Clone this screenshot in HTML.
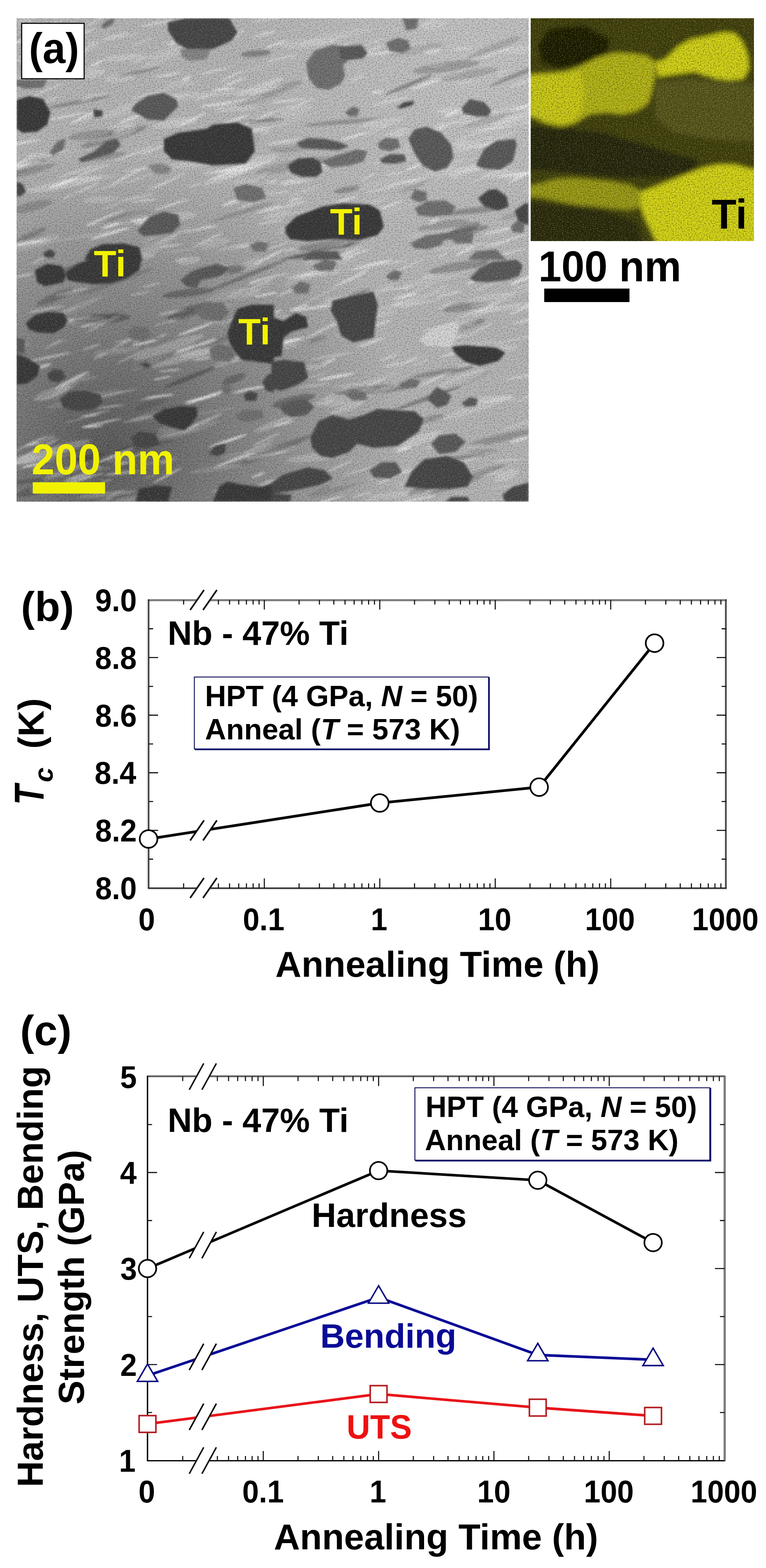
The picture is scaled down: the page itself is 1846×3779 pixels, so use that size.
<!DOCTYPE html>
<html><head><meta charset="utf-8"><title>Nb-47%Ti figure</title>
<style>html,body{margin:0;padding:0;background:#fff;}svg{display:block;}</style></head>
<body><svg width="1846" height="3779" viewBox="0 0 1846 3779">
<rect width="1846" height="3779" fill="#fff"/>
<defs>
<clipPath id="semclip"><rect x="40" y="44" width="1234" height="1165"/></clipPath>
<clipPath id="edsclip"><rect x="1279" y="44" width="538" height="537"/></clipPath>
<filter id="blur3" x="-10%" y="-10%" width="120%" height="120%"><feGaussianBlur stdDeviation="2.5"/></filter>
<filter id="blur12" x="-10%" y="-10%" width="120%" height="120%"><feGaussianBlur stdDeviation="12"/></filter>
<filter id="noise" x="0" y="0" width="100%" height="100%">
  <feTurbulence type="fractalNoise" baseFrequency="0.32" numOctaves="2" seed="7" result="t"/>
  <feColorMatrix type="matrix" values="0 0 0 0 0  0 0 0 0 0  0 0 0 0 0  0 0 0 -2.2 1.25" />
</filter>
<filter id="noisew" x="0" y="0" width="100%" height="100%">
  <feTurbulence type="fractalNoise" baseFrequency="0.35" numOctaves="2" seed="11" result="t"/>
  <feColorMatrix type="matrix" values="0 0 0 0 1  0 0 0 0 1  0 0 0 0 1  0 0 0 2.4 -1.35" />
</filter>
<filter id="noisey" x="0" y="0" width="100%" height="100%">
  <feTurbulence type="fractalNoise" baseFrequency="0.4" numOctaves="2" seed="23" result="t"/>
  <feColorMatrix type="matrix" values="0 0 0 0 0.95  0 0 0 0 0.95  0 0 0 0 0.35  0 0 0 2.6 -1.4" />
</filter>
<radialGradient id="semg" gradientUnits="userSpaceOnUse" cx="260" cy="1080" r="720">
  <stop offset="0" stop-color="#000" stop-opacity="0.5"/>
  <stop offset="0.45" stop-color="#000" stop-opacity="0.27"/>
  <stop offset="1" stop-color="#000" stop-opacity="0"/>
</radialGradient>
<radialGradient id="semg2" gradientUnits="userSpaceOnUse" cx="1150" cy="150" r="600">
  <stop offset="0" stop-color="#fff" stop-opacity="0.22"/>
  <stop offset="1" stop-color="#fff" stop-opacity="0"/>
</radialGradient>
</defs>
<g clip-path="url(#semclip)">
<rect x="40" y="44" width="1234" height="1165" fill="#b8b8b8"/>
<rect x="40" y="44" width="1234" height="1165" fill="url(#semg)"/>
<rect x="40" y="44" width="1234" height="1165" fill="url(#semg2)"/>
<g filter="url(#blur3)"><ellipse cx="809" cy="908" rx="46" ry="3.4" transform="rotate(-11 809 908)" fill="#fff" opacity="0.72"/><ellipse cx="76" cy="586" rx="53" ry="2.7" transform="rotate(-7 76 586)" fill="#fff" opacity="0.35"/><ellipse cx="619" cy="331" rx="36" ry="2.5" transform="rotate(-28 619 331)" fill="#fff" opacity="0.40"/><ellipse cx="385" cy="1112" rx="45" ry="1.6" transform="rotate(-10 385 1112)" fill="#fff" opacity="0.36"/><ellipse cx="802" cy="192" rx="13" ry="3.2" transform="rotate(-23 802 192)" fill="#fff" opacity="0.40"/><ellipse cx="1252" cy="1060" rx="25" ry="3.4" transform="rotate(-16 1252 1060)" fill="#fff" opacity="0.61"/><ellipse cx="293" cy="1140" rx="42" ry="3.4" transform="rotate(-7 293 1140)" fill="#fff" opacity="0.43"/><ellipse cx="486" cy="237" rx="19" ry="1.4" transform="rotate(-21 486 237)" fill="#fff" opacity="0.57"/><ellipse cx="44" cy="834" rx="27" ry="1.9" transform="rotate(-9 44 834)" fill="#fff" opacity="0.52"/><ellipse cx="430" cy="605" rx="42" ry="1.4" transform="rotate(-6 430 605)" fill="#fff" opacity="0.31"/><ellipse cx="965" cy="1028" rx="13" ry="3.0" transform="rotate(-20 965 1028)" fill="#fff" opacity="0.56"/><ellipse cx="51" cy="98" rx="20" ry="3.4" transform="rotate(-23 51 98)" fill="#fff" opacity="0.64"/><ellipse cx="1187" cy="1141" rx="27" ry="2.0" transform="rotate(-16 1187 1141)" fill="#fff" opacity="0.65"/><ellipse cx="173" cy="916" rx="46" ry="3.2" transform="rotate(-27 173 916)" fill="#fff" opacity="0.73"/><ellipse cx="153" cy="441" rx="38" ry="3.3" transform="rotate(-20 153 441)" fill="#fff" opacity="0.72"/><ellipse cx="713" cy="408" rx="26" ry="1.6" transform="rotate(-26 713 408)" fill="#fff" opacity="0.37"/><ellipse cx="890" cy="1205" rx="19" ry="1.4" transform="rotate(-5 890 1205)" fill="#fff" opacity="0.54"/><ellipse cx="541" cy="320" rx="38" ry="3.1" transform="rotate(-18 541 320)" fill="#fff" opacity="0.49"/><ellipse cx="109" cy="1111" rx="14" ry="2.4" transform="rotate(-9 109 1111)" fill="#fff" opacity="0.36"/><ellipse cx="943" cy="1151" rx="39" ry="3.0" transform="rotate(-26 943 1151)" fill="#fff" opacity="0.50"/><ellipse cx="224" cy="1028" rx="25" ry="2.3" transform="rotate(-5 224 1028)" fill="#fff" opacity="0.68"/><ellipse cx="1244" cy="572" rx="33" ry="2.9" transform="rotate(-17 1244 572)" fill="#fff" opacity="0.43"/><ellipse cx="538" cy="215" rx="29" ry="3.5" transform="rotate(-6 538 215)" fill="#fff" opacity="0.58"/><ellipse cx="656" cy="438" rx="16" ry="1.9" transform="rotate(-10 656 438)" fill="#fff" opacity="0.69"/><ellipse cx="486" cy="960" rx="45" ry="2.8" transform="rotate(-13 486 960)" fill="#fff" opacity="0.64"/><ellipse cx="488" cy="865" rx="24" ry="2.3" transform="rotate(-10 488 865)" fill="#fff" opacity="0.61"/><ellipse cx="403" cy="1146" rx="40" ry="2.6" transform="rotate(-28 403 1146)" fill="#fff" opacity="0.55"/><ellipse cx="349" cy="826" rx="32" ry="3.1" transform="rotate(-13 349 826)" fill="#fff" opacity="0.66"/><ellipse cx="469" cy="794" rx="44" ry="3.1" transform="rotate(-20 469 794)" fill="#fff" opacity="0.68"/><ellipse cx="1113" cy="846" rx="54" ry="3.4" transform="rotate(-16 1113 846)" fill="#fff" opacity="0.54"/><ellipse cx="245" cy="1019" rx="52" ry="2.3" transform="rotate(-12 245 1019)" fill="#fff" opacity="0.62"/><ellipse cx="941" cy="244" rx="46" ry="2.6" transform="rotate(-13 941 244)" fill="#fff" opacity="0.49"/><ellipse cx="810" cy="947" rx="40" ry="2.9" transform="rotate(-27 810 947)" fill="#fff" opacity="0.37"/><ellipse cx="584" cy="801" rx="22" ry="2.8" transform="rotate(-13 584 801)" fill="#fff" opacity="0.32"/><ellipse cx="622" cy="308" rx="15" ry="1.6" transform="rotate(-21 622 308)" fill="#fff" opacity="0.38"/><ellipse cx="279" cy="86" rx="32" ry="2.1" transform="rotate(-14 279 86)" fill="#fff" opacity="0.57"/><ellipse cx="334" cy="1096" rx="13" ry="2.2" transform="rotate(-22 334 1096)" fill="#fff" opacity="0.48"/><ellipse cx="182" cy="1013" rx="28" ry="1.3" transform="rotate(-14 182 1013)" fill="#fff" opacity="0.34"/><ellipse cx="713" cy="439" rx="37" ry="3.4" transform="rotate(-9 713 439)" fill="#fff" opacity="0.49"/><ellipse cx="1043" cy="792" rx="28" ry="1.6" transform="rotate(-14 1043 792)" fill="#fff" opacity="0.55"/><ellipse cx="1221" cy="1172" rx="38" ry="2.0" transform="rotate(-7 1221 1172)" fill="#fff" opacity="0.30"/><ellipse cx="173" cy="703" rx="39" ry="1.6" transform="rotate(-14 173 703)" fill="#fff" opacity="0.70"/><ellipse cx="504" cy="547" rx="22" ry="1.9" transform="rotate(-6 504 547)" fill="#fff" opacity="0.47"/><ellipse cx="1226" cy="1109" rx="38" ry="1.8" transform="rotate(-5 1226 1109)" fill="#fff" opacity="0.52"/><ellipse cx="553" cy="416" rx="54" ry="2.4" transform="rotate(-21 553 416)" fill="#fff" opacity="0.51"/><ellipse cx="190" cy="768" rx="31" ry="1.9" transform="rotate(-10 190 768)" fill="#fff" opacity="0.67"/><ellipse cx="56" cy="664" rx="24" ry="3.4" transform="rotate(-10 56 664)" fill="#fff" opacity="0.41"/><ellipse cx="370" cy="224" rx="55" ry="1.9" transform="rotate(-14 370 224)" fill="#fff" opacity="0.51"/><ellipse cx="836" cy="747" rx="44" ry="1.5" transform="rotate(-11 836 747)" fill="#fff" opacity="0.44"/><ellipse cx="698" cy="436" rx="25" ry="2.4" transform="rotate(-17 698 436)" fill="#fff" opacity="0.46"/><ellipse cx="959" cy="732" rx="14" ry="1.8" transform="rotate(-18 959 732)" fill="#fff" opacity="0.71"/><ellipse cx="1136" cy="680" rx="13" ry="3.0" transform="rotate(-18 1136 680)" fill="#fff" opacity="0.56"/><ellipse cx="914" cy="781" rx="33" ry="3.3" transform="rotate(-19 914 781)" fill="#fff" opacity="0.48"/><ellipse cx="1091" cy="273" rx="25" ry="3.1" transform="rotate(-26 1091 273)" fill="#fff" opacity="0.68"/><ellipse cx="897" cy="548" rx="25" ry="3.0" transform="rotate(-7 897 548)" fill="#fff" opacity="0.36"/><ellipse cx="630" cy="684" rx="34" ry="2.0" transform="rotate(-24 630 684)" fill="#fff" opacity="0.56"/><ellipse cx="1042" cy="124" rx="22" ry="3.1" transform="rotate(-10 1042 124)" fill="#fff" opacity="0.60"/><ellipse cx="72" cy="886" rx="54" ry="3.5" transform="rotate(-12 72 886)" fill="#fff" opacity="0.32"/><ellipse cx="1079" cy="299" rx="40" ry="3.4" transform="rotate(-12 1079 299)" fill="#fff" opacity="0.36"/><ellipse cx="401" cy="1113" rx="19" ry="2.6" transform="rotate(-18 401 1113)" fill="#fff" opacity="0.37"/><ellipse cx="808" cy="95" rx="17" ry="2.1" transform="rotate(-26 808 95)" fill="#fff" opacity="0.33"/><ellipse cx="750" cy="909" rx="50" ry="1.6" transform="rotate(-18 750 909)" fill="#fff" opacity="0.44"/><ellipse cx="781" cy="614" rx="52" ry="2.1" transform="rotate(-27 781 614)" fill="#fff" opacity="0.61"/><ellipse cx="226" cy="780" rx="34" ry="3.3" transform="rotate(-15 226 780)" fill="#fff" opacity="0.58"/><ellipse cx="365" cy="687" rx="23" ry="2.9" transform="rotate(-16 365 687)" fill="#fff" opacity="0.36"/><ellipse cx="329" cy="476" rx="44" ry="1.7" transform="rotate(-12 329 476)" fill="#fff" opacity="0.59"/><ellipse cx="145" cy="822" rx="16" ry="1.5" transform="rotate(-14 145 822)" fill="#fff" opacity="0.41"/><ellipse cx="1122" cy="604" rx="26" ry="3.0" transform="rotate(-27 1122 604)" fill="#fff" opacity="0.63"/><ellipse cx="106" cy="220" rx="53" ry="2.8" transform="rotate(-23 106 220)" fill="#fff" opacity="0.35"/><ellipse cx="1240" cy="819" rx="47" ry="1.6" transform="rotate(-14 1240 819)" fill="#fff" opacity="0.46"/><ellipse cx="330" cy="432" rx="39" ry="2.0" transform="rotate(-19 330 432)" fill="#fff" opacity="0.36"/><ellipse cx="1066" cy="799" rx="47" ry="2.2" transform="rotate(-8 1066 799)" fill="#fff" opacity="0.53"/><ellipse cx="771" cy="712" rx="44" ry="2.1" transform="rotate(-26 771 712)" fill="#fff" opacity="0.31"/><ellipse cx="290" cy="90" rx="50" ry="2.3" transform="rotate(-11 290 90)" fill="#fff" opacity="0.30"/><ellipse cx="620" cy="1081" rx="39" ry="2.2" transform="rotate(-17 620 1081)" fill="#fff" opacity="0.34"/><ellipse cx="231" cy="229" rx="28" ry="2.1" transform="rotate(-8 231 229)" fill="#fff" opacity="0.37"/><ellipse cx="354" cy="367" rx="19" ry="1.9" transform="rotate(-23 354 367)" fill="#fff" opacity="0.52"/><ellipse cx="80" cy="1121" rx="28" ry="3.4" transform="rotate(-12 80 1121)" fill="#fff" opacity="0.60"/><ellipse cx="622" cy="1145" rx="18" ry="2.8" transform="rotate(-21 622 1145)" fill="#fff" opacity="0.60"/><ellipse cx="940" cy="234" rx="21" ry="1.3" transform="rotate(-23 940 234)" fill="#fff" opacity="0.34"/><ellipse cx="535" cy="1178" rx="28" ry="2.0" transform="rotate(-17 535 1178)" fill="#fff" opacity="0.43"/><ellipse cx="944" cy="880" rx="19" ry="1.8" transform="rotate(-13 944 880)" fill="#fff" opacity="0.72"/><ellipse cx="837" cy="546" rx="54" ry="1.3" transform="rotate(-27 837 546)" fill="#fff" opacity="0.65"/><ellipse cx="546" cy="96" rx="36" ry="3.5" transform="rotate(-16 546 96)" fill="#fff" opacity="0.46"/><ellipse cx="156" cy="127" rx="51" ry="2.4" transform="rotate(-6 156 127)" fill="#fff" opacity="0.32"/><ellipse cx="340" cy="103" rx="29" ry="1.4" transform="rotate(-22 340 103)" fill="#fff" opacity="0.48"/><ellipse cx="418" cy="104" rx="14" ry="3.4" transform="rotate(-24 418 104)" fill="#fff" opacity="0.53"/><ellipse cx="537" cy="663" rx="16" ry="2.0" transform="rotate(-26 537 663)" fill="#fff" opacity="0.54"/><ellipse cx="1177" cy="741" rx="49" ry="1.7" transform="rotate(-28 1177 741)" fill="#fff" opacity="0.54"/><ellipse cx="640" cy="710" rx="29" ry="2.7" transform="rotate(-11 640 710)" fill="#fff" opacity="0.71"/><ellipse cx="420" cy="567" rx="48" ry="1.8" transform="rotate(-25 420 567)" fill="#fff" opacity="0.44"/><ellipse cx="148" cy="944" rx="47" ry="2.0" transform="rotate(-25 148 944)" fill="#fff" opacity="0.34"/><ellipse cx="342" cy="142" rx="31" ry="2.5" transform="rotate(-22 342 142)" fill="#fff" opacity="0.33"/><ellipse cx="905" cy="100" rx="21" ry="1.9" transform="rotate(-19 905 100)" fill="#fff" opacity="0.34"/><ellipse cx="559" cy="410" rx="44" ry="2.5" transform="rotate(-7 559 410)" fill="#fff" opacity="0.59"/><ellipse cx="977" cy="714" rx="31" ry="3.1" transform="rotate(-13 977 714)" fill="#fff" opacity="0.73"/><ellipse cx="938" cy="861" rx="24" ry="3.1" transform="rotate(-19 938 861)" fill="#fff" opacity="0.36"/><ellipse cx="121" cy="241" rx="24" ry="2.8" transform="rotate(-21 121 241)" fill="#fff" opacity="0.33"/><ellipse cx="983" cy="693" rx="14" ry="1.4" transform="rotate(-25 983 693)" fill="#fff" opacity="0.46"/><ellipse cx="1101" cy="1150" rx="39" ry="1.8" transform="rotate(-18 1101 1150)" fill="#fff" opacity="0.46"/><ellipse cx="448" cy="58" rx="37" ry="3.1" transform="rotate(-11 448 58)" fill="#fff" opacity="0.34"/><ellipse cx="694" cy="243" rx="43" ry="2.3" transform="rotate(-6 694 243)" fill="#fff" opacity="0.66"/><ellipse cx="186" cy="413" rx="51" ry="2.3" transform="rotate(-18 186 413)" fill="#fff" opacity="0.50"/><ellipse cx="987" cy="1135" rx="35" ry="3.4" transform="rotate(-14 987 1135)" fill="#fff" opacity="0.35"/><ellipse cx="1045" cy="533" rx="15" ry="3.5" transform="rotate(-27 1045 533)" fill="#fff" opacity="0.56"/><ellipse cx="635" cy="1071" rx="29" ry="1.7" transform="rotate(-22 635 1071)" fill="#fff" opacity="0.39"/><ellipse cx="734" cy="460" rx="44" ry="1.8" transform="rotate(-20 734 460)" fill="#fff" opacity="0.41"/><ellipse cx="1252" cy="1023" rx="49" ry="2.6" transform="rotate(-19 1252 1023)" fill="#fff" opacity="0.36"/><ellipse cx="1066" cy="615" rx="14" ry="1.6" transform="rotate(-26 1066 615)" fill="#fff" opacity="0.62"/><ellipse cx="1151" cy="276" rx="46" ry="2.0" transform="rotate(-12 1151 276)" fill="#fff" opacity="0.69"/><ellipse cx="809" cy="976" rx="28" ry="1.3" transform="rotate(-16 809 976)" fill="#fff" opacity="0.56"/><ellipse cx="268" cy="497" rx="26" ry="1.3" transform="rotate(-21 268 497)" fill="#fff" opacity="0.47"/><ellipse cx="628" cy="863" rx="29" ry="3.5" transform="rotate(-9 628 863)" fill="#fff" opacity="0.72"/><ellipse cx="895" cy="825" rx="35" ry="3.0" transform="rotate(-20 895 825)" fill="#fff" opacity="0.57"/><ellipse cx="878" cy="652" rx="25" ry="1.4" transform="rotate(-26 878 652)" fill="#fff" opacity="0.46"/><ellipse cx="756" cy="929" rx="43" ry="1.9" transform="rotate(-7 756 929)" fill="#fff" opacity="0.42"/><ellipse cx="924" cy="128" rx="45" ry="2.8" transform="rotate(-6 924 128)" fill="#fff" opacity="0.70"/><ellipse cx="889" cy="1021" rx="44" ry="2.6" transform="rotate(-23 889 1021)" fill="#fff" opacity="0.53"/><ellipse cx="1146" cy="323" rx="54" ry="2.5" transform="rotate(-19 1146 323)" fill="#fff" opacity="0.30"/><ellipse cx="521" cy="252" rx="40" ry="3.3" transform="rotate(-7 521 252)" fill="#fff" opacity="0.58"/><ellipse cx="517" cy="171" rx="42" ry="2.5" transform="rotate(-12 517 171)" fill="#fff" opacity="0.47"/><ellipse cx="1134" cy="292" rx="25" ry="1.9" transform="rotate(-14 1134 292)" fill="#fff" opacity="0.70"/><ellipse cx="247" cy="781" rx="45" ry="1.8" transform="rotate(-27 247 781)" fill="#fff" opacity="0.55"/><ellipse cx="1065" cy="1068" rx="43" ry="2.2" transform="rotate(-18 1065 1068)" fill="#fff" opacity="0.54"/><ellipse cx="1156" cy="396" rx="24" ry="2.6" transform="rotate(-6 1156 396)" fill="#fff" opacity="0.38"/><ellipse cx="78" cy="179" rx="36" ry="2.6" transform="rotate(-24 78 179)" fill="#fff" opacity="0.39"/><ellipse cx="774" cy="797" rx="42" ry="2.9" transform="rotate(-27 774 797)" fill="#fff" opacity="0.52"/><ellipse cx="1070" cy="1159" rx="26" ry="3.2" transform="rotate(-13 1070 1159)" fill="#fff" opacity="0.72"/><ellipse cx="323" cy="856" rx="48" ry="2.3" transform="rotate(-26 323 856)" fill="#fff" opacity="0.39"/><ellipse cx="233" cy="152" rx="19" ry="2.6" transform="rotate(-26 233 152)" fill="#fff" opacity="0.64"/><ellipse cx="948" cy="995" rx="47" ry="2.9" transform="rotate(-7 948 995)" fill="#fff" opacity="0.73"/><ellipse cx="811" cy="1168" rx="17" ry="1.5" transform="rotate(-27 811 1168)" fill="#fff" opacity="0.39"/><ellipse cx="502" cy="578" rx="41" ry="2.9" transform="rotate(-26 502 578)" fill="#fff" opacity="0.48"/><ellipse cx="711" cy="481" rx="17" ry="2.6" transform="rotate(-19 711 481)" fill="#fff" opacity="0.61"/><ellipse cx="651" cy="1166" rx="53" ry="1.4" transform="rotate(-11 651 1166)" fill="#fff" opacity="0.62"/><ellipse cx="405" cy="180" rx="33" ry="2.0" transform="rotate(-11 405 180)" fill="#fff" opacity="0.71"/><ellipse cx="512" cy="383" rx="34" ry="2.8" transform="rotate(-10 512 383)" fill="#fff" opacity="0.56"/><ellipse cx="405" cy="437" rx="49" ry="2.4" transform="rotate(-27 405 437)" fill="#fff" opacity="0.49"/><ellipse cx="333" cy="820" rx="16" ry="1.9" transform="rotate(-26 333 820)" fill="#fff" opacity="0.51"/><ellipse cx="1255" cy="675" rx="29" ry="3.4" transform="rotate(-26 1255 675)" fill="#fff" opacity="0.46"/><ellipse cx="1041" cy="50" rx="45" ry="2.1" transform="rotate(-28 1041 50)" fill="#fff" opacity="0.41"/><ellipse cx="605" cy="490" rx="34" ry="1.4" transform="rotate(-23 605 490)" fill="#fff" opacity="0.74"/><ellipse cx="586" cy="594" rx="16" ry="1.9" transform="rotate(-6 586 594)" fill="#fff" opacity="0.61"/><ellipse cx="667" cy="106" rx="29" ry="3.0" transform="rotate(-18 667 106)" fill="#fff" opacity="0.57"/><ellipse cx="1154" cy="796" rx="40" ry="1.3" transform="rotate(-27 1154 796)" fill="#fff" opacity="0.65"/><ellipse cx="550" cy="1062" rx="48" ry="3.3" transform="rotate(-19 550 1062)" fill="#fff" opacity="0.75"/><ellipse cx="973" cy="1083" rx="19" ry="3.0" transform="rotate(-18 973 1083)" fill="#fff" opacity="0.74"/><ellipse cx="1267" cy="296" rx="30" ry="1.9" transform="rotate(-17 1267 296)" fill="#fff" opacity="0.43"/><ellipse cx="862" cy="188" rx="20" ry="2.3" transform="rotate(-26 862 188)" fill="#fff" opacity="0.47"/><ellipse cx="1147" cy="1075" rx="21" ry="1.3" transform="rotate(-9 1147 1075)" fill="#fff" opacity="0.73"/><ellipse cx="779" cy="203" rx="23" ry="3.3" transform="rotate(-6 779 203)" fill="#fff" opacity="0.31"/><ellipse cx="268" cy="544" rx="24" ry="2.9" transform="rotate(-19 268 544)" fill="#fff" opacity="0.65"/><ellipse cx="228" cy="648" rx="54" ry="2.8" transform="rotate(-26 228 648)" fill="#fff" opacity="0.35"/><ellipse cx="834" cy="481" rx="28" ry="2.3" transform="rotate(-15 834 481)" fill="#fff" opacity="0.73"/><ellipse cx="337" cy="707" rx="24" ry="2.5" transform="rotate(-11 337 707)" fill="#fff" opacity="0.36"/><ellipse cx="634" cy="866" rx="13" ry="3.0" transform="rotate(-18 634 866)" fill="#fff" opacity="0.53"/><ellipse cx="793" cy="968" rx="15" ry="2.4" transform="rotate(-27 793 968)" fill="#fff" opacity="0.47"/><ellipse cx="467" cy="69" rx="25" ry="2.3" transform="rotate(-13 467 69)" fill="#fff" opacity="0.72"/><ellipse cx="497" cy="662" rx="43" ry="3.4" transform="rotate(-6 497 662)" fill="#fff" opacity="0.74"/><ellipse cx="412" cy="238" rx="52" ry="1.4" transform="rotate(-18 412 238)" fill="#fff" opacity="0.63"/><ellipse cx="692" cy="497" rx="52" ry="1.9" transform="rotate(-15 692 497)" fill="#fff" opacity="0.67"/><ellipse cx="210" cy="453" rx="34" ry="2.5" transform="rotate(-23 210 453)" fill="#fff" opacity="0.50"/><ellipse cx="114" cy="146" rx="27" ry="1.6" transform="rotate(-6 114 146)" fill="#fff" opacity="0.42"/><ellipse cx="380" cy="957" rx="44" ry="1.8" transform="rotate(-9 380 957)" fill="#fff" opacity="0.58"/><ellipse cx="520" cy="777" rx="23" ry="1.8" transform="rotate(-8 520 777)" fill="#fff" opacity="0.50"/><ellipse cx="1147" cy="250" rx="18" ry="1.4" transform="rotate(-11 1147 250)" fill="#fff" opacity="0.55"/><ellipse cx="52" cy="94" rx="48" ry="2.4" transform="rotate(-8 52 94)" fill="#fff" opacity="0.32"/><ellipse cx="767" cy="181" rx="43" ry="2.6" transform="rotate(-14 767 181)" fill="#fff" opacity="0.40"/><ellipse cx="1211" cy="173" rx="15" ry="2.8" transform="rotate(-26 1211 173)" fill="#fff" opacity="0.33"/><ellipse cx="608" cy="800" rx="50" ry="2.9" transform="rotate(-26 608 800)" fill="#fff" opacity="0.59"/><ellipse cx="1081" cy="184" rx="45" ry="1.8" transform="rotate(-21 1081 184)" fill="#fff" opacity="0.30"/><ellipse cx="976" cy="645" rx="51" ry="2.3" transform="rotate(-24 976 645)" fill="#fff" opacity="0.40"/><ellipse cx="365" cy="1147" rx="21" ry="1.4" transform="rotate(-20 365 1147)" fill="#fff" opacity="0.34"/><ellipse cx="565" cy="768" rx="40" ry="1.6" transform="rotate(-25 565 768)" fill="#fff" opacity="0.52"/><ellipse cx="888" cy="565" rx="37" ry="3.3" transform="rotate(-25 888 565)" fill="#fff" opacity="0.42"/><ellipse cx="649" cy="669" rx="51" ry="2.5" transform="rotate(-13 649 669)" fill="#fff" opacity="0.49"/><ellipse cx="1008" cy="1018" rx="25" ry="1.5" transform="rotate(-22 1008 1018)" fill="#fff" opacity="0.46"/><ellipse cx="1138" cy="352" rx="39" ry="2.7" transform="rotate(-6 1138 352)" fill="#fff" opacity="0.35"/><ellipse cx="990" cy="436" rx="17" ry="2.7" transform="rotate(-9 990 436)" fill="#fff" opacity="0.56"/><ellipse cx="102" cy="1177" rx="29" ry="2.7" transform="rotate(-11 102 1177)" fill="#fff" opacity="0.42"/><ellipse cx="544" cy="428" rx="17" ry="1.4" transform="rotate(-12 544 428)" fill="#fff" opacity="0.48"/><ellipse cx="1113" cy="117" rx="25" ry="1.7" transform="rotate(-6 1113 117)" fill="#fff" opacity="0.66"/><ellipse cx="1146" cy="634" rx="17" ry="2.2" transform="rotate(-23 1146 634)" fill="#fff" opacity="0.31"/><ellipse cx="737" cy="382" rx="17" ry="2.4" transform="rotate(-7 737 382)" fill="#fff" opacity="0.73"/><ellipse cx="615" cy="164" rx="45" ry="1.5" transform="rotate(-16 615 164)" fill="#fff" opacity="0.34"/><ellipse cx="1258" cy="676" rx="31" ry="1.9" transform="rotate(-15 1258 676)" fill="#fff" opacity="0.74"/><ellipse cx="568" cy="288" rx="34" ry="3.3" transform="rotate(-19 568 288)" fill="#fff" opacity="0.59"/><ellipse cx="1174" cy="423" rx="47" ry="2.4" transform="rotate(-25 1174 423)" fill="#fff" opacity="0.32"/><ellipse cx="1199" cy="587" rx="31" ry="3.3" transform="rotate(-15 1199 587)" fill="#fff" opacity="0.53"/><ellipse cx="391" cy="911" rx="23" ry="2.3" transform="rotate(-11 391 911)" fill="#fff" opacity="0.57"/><ellipse cx="206" cy="280" rx="42" ry="2.9" transform="rotate(-26 206 280)" fill="#fff" opacity="0.75"/><ellipse cx="205" cy="239" rx="16" ry="2.3" transform="rotate(-14 205 239)" fill="#fff" opacity="0.69"/><ellipse cx="241" cy="858" rx="17" ry="2.6" transform="rotate(-22 241 858)" fill="#fff" opacity="0.46"/><ellipse cx="105" cy="884" rx="18" ry="3.0" transform="rotate(-20 105 884)" fill="#fff" opacity="0.57"/><ellipse cx="829" cy="613" rx="50" ry="3.3" transform="rotate(-22 829 613)" fill="#fff" opacity="0.45"/><ellipse cx="1122" cy="199" rx="30" ry="2.2" transform="rotate(-6 1122 199)" fill="#fff" opacity="0.36"/><ellipse cx="848" cy="926" rx="43" ry="1.3" transform="rotate(-6 848 926)" fill="#fff" opacity="0.44"/><ellipse cx="1093" cy="814" rx="30" ry="3.1" transform="rotate(-12 1093 814)" fill="#fff" opacity="0.45"/><ellipse cx="943" cy="633" rx="43" ry="2.6" transform="rotate(-10 943 633)" fill="#fff" opacity="0.37"/><ellipse cx="650" cy="45" rx="46" ry="3.0" transform="rotate(-9 650 45)" fill="#fff" opacity="0.32"/><ellipse cx="700" cy="602" rx="18" ry="1.7" transform="rotate(-6 700 602)" fill="#fff" opacity="0.68"/><ellipse cx="334" cy="1010" rx="40" ry="2.1" transform="rotate(-13 334 1010)" fill="#fff" opacity="0.40"/><ellipse cx="378" cy="56" rx="40" ry="2.6" transform="rotate(-11 378 56)" fill="#fff" opacity="0.53"/><ellipse cx="577" cy="401" rx="44" ry="2.1" transform="rotate(-14 577 401)" fill="#fff" opacity="0.64"/><ellipse cx="589" cy="843" rx="15" ry="1.8" transform="rotate(-9 589 843)" fill="#fff" opacity="0.37"/><ellipse cx="110" cy="61" rx="45" ry="1.5" transform="rotate(-17 110 61)" fill="#fff" opacity="0.50"/><ellipse cx="1031" cy="599" rx="35" ry="1.3" transform="rotate(-10 1031 599)" fill="#fff" opacity="0.65"/><ellipse cx="809" cy="1017" rx="39" ry="2.9" transform="rotate(-8 809 1017)" fill="#fff" opacity="0.58"/><ellipse cx="65" cy="1074" rx="55" ry="1.7" transform="rotate(-26 65 1074)" fill="#fff" opacity="0.45"/><ellipse cx="164" cy="474" rx="16" ry="1.7" transform="rotate(-28 164 474)" fill="#fff" opacity="0.49"/><ellipse cx="410" cy="893" rx="29" ry="1.6" transform="rotate(-6 410 893)" fill="#fff" opacity="0.70"/><ellipse cx="891" cy="297" rx="30" ry="2.3" transform="rotate(-19 891 297)" fill="#fff" opacity="0.31"/><ellipse cx="602" cy="938" rx="42" ry="3.2" transform="rotate(-12 602 938)" fill="#fff" opacity="0.64"/><ellipse cx="1114" cy="1112" rx="46" ry="2.2" transform="rotate(-13 1114 1112)" fill="#fff" opacity="0.60"/><ellipse cx="1129" cy="875" rx="31" ry="1.7" transform="rotate(-20 1129 875)" fill="#fff" opacity="0.41"/><ellipse cx="881" cy="940" rx="21" ry="2.5" transform="rotate(-9 881 940)" fill="#fff" opacity="0.46"/><ellipse cx="157" cy="750" rx="28" ry="1.6" transform="rotate(-21 157 750)" fill="#fff" opacity="0.30"/><ellipse cx="224" cy="540" rx="17" ry="1.3" transform="rotate(-15 224 540)" fill="#fff" opacity="0.73"/><ellipse cx="1069" cy="424" rx="52" ry="1.4" transform="rotate(-25 1069 424)" fill="#fff" opacity="0.30"/><ellipse cx="112" cy="745" rx="45" ry="2.3" transform="rotate(-10 112 745)" fill="#fff" opacity="0.50"/><ellipse cx="1174" cy="752" rx="35" ry="1.6" transform="rotate(-18 1174 752)" fill="#fff" opacity="0.50"/><ellipse cx="1055" cy="312" rx="25" ry="3.1" transform="rotate(-26 1055 312)" fill="#fff" opacity="0.54"/><ellipse cx="311" cy="819" rx="38" ry="1.5" transform="rotate(-11 311 819)" fill="#fff" opacity="0.48"/><ellipse cx="436" cy="1042" rx="46" ry="1.9" transform="rotate(-12 436 1042)" fill="#fff" opacity="0.36"/><ellipse cx="680" cy="140" rx="40" ry="3.3" transform="rotate(-13 680 140)" fill="#fff" opacity="0.32"/><ellipse cx="673" cy="591" rx="31" ry="1.6" transform="rotate(-22 673 591)" fill="#fff" opacity="0.50"/><ellipse cx="128" cy="830" rx="23" ry="1.9" transform="rotate(-26 128 830)" fill="#fff" opacity="0.44"/><ellipse cx="1189" cy="384" rx="17" ry="2.0" transform="rotate(-6 1189 384)" fill="#fff" opacity="0.34"/><ellipse cx="463" cy="288" rx="41" ry="2.3" transform="rotate(-26 463 288)" fill="#fff" opacity="0.69"/><ellipse cx="445" cy="843" rx="32" ry="3.2" transform="rotate(-27 445 843)" fill="#fff" opacity="0.40"/><ellipse cx="392" cy="352" rx="47" ry="2.4" transform="rotate(-20 392 352)" fill="#fff" opacity="0.53"/><ellipse cx="1084" cy="708" rx="32" ry="2.7" transform="rotate(-14 1084 708)" fill="#fff" opacity="0.48"/><ellipse cx="566" cy="197" rx="31" ry="3.2" transform="rotate(-21 566 197)" fill="#fff" opacity="0.46"/><ellipse cx="784" cy="732" rx="20" ry="2.3" transform="rotate(-11 784 732)" fill="#fff" opacity="0.32"/><ellipse cx="174" cy="924" rx="51" ry="1.4" transform="rotate(-26 174 924)" fill="#fff" opacity="0.58"/><ellipse cx="391" cy="809" rx="14" ry="2.3" transform="rotate(-24 391 809)" fill="#fff" opacity="0.45"/><ellipse cx="896" cy="638" rx="49" ry="3.1" transform="rotate(-14 896 638)" fill="#fff" opacity="0.68"/><ellipse cx="259" cy="597" rx="26" ry="2.7" transform="rotate(-25 259 597)" fill="#fff" opacity="0.70"/><ellipse cx="497" cy="957" rx="53" ry="3.4" transform="rotate(-19 497 957)" fill="#fff" opacity="0.69"/><ellipse cx="1270" cy="196" rx="44" ry="2.9" transform="rotate(-17 1270 196)" fill="#fff" opacity="0.43"/><ellipse cx="254" cy="524" rx="52" ry="2.2" transform="rotate(-22 254 524)" fill="#fff" opacity="0.58"/><ellipse cx="580" cy="759" rx="32" ry="1.9" transform="rotate(-27 580 759)" fill="#fff" opacity="0.67"/><ellipse cx="853" cy="328" rx="34" ry="2.6" transform="rotate(-16 853 328)" fill="#fff" opacity="0.71"/><ellipse cx="1001" cy="401" rx="27" ry="2.6" transform="rotate(-24 1001 401)" fill="#fff" opacity="0.72"/><ellipse cx="96" cy="626" rx="24" ry="2.4" transform="rotate(-27 96 626)" fill="#fff" opacity="0.40"/><ellipse cx="1260" cy="962" rx="22" ry="2.3" transform="rotate(-27 1260 962)" fill="#fff" opacity="0.35"/><ellipse cx="277" cy="1191" rx="26" ry="1.8" transform="rotate(-26 277 1191)" fill="#fff" opacity="0.35"/><ellipse cx="1268" cy="906" rx="52" ry="3.1" transform="rotate(-10 1268 906)" fill="#fff" opacity="0.41"/><ellipse cx="249" cy="359" rx="15" ry="1.6" transform="rotate(-11 249 359)" fill="#fff" opacity="0.52"/><ellipse cx="53" cy="399" rx="49" ry="3.2" transform="rotate(-11 53 399)" fill="#fff" opacity="0.63"/><ellipse cx="1165" cy="693" rx="29" ry="2.5" transform="rotate(-22 1165 693)" fill="#fff" opacity="0.32"/><ellipse cx="361" cy="577" rx="18" ry="1.4" transform="rotate(-22 361 577)" fill="#fff" opacity="0.47"/><ellipse cx="1221" cy="611" rx="48" ry="2.9" transform="rotate(-14 1221 611)" fill="#fff" opacity="0.44"/><ellipse cx="525" cy="413" rx="39" ry="3.2" transform="rotate(-10 525 413)" fill="#fff" opacity="0.43"/><ellipse cx="225" cy="54" rx="37" ry="1.8" transform="rotate(-28 225 54)" fill="#fff" opacity="0.44"/><ellipse cx="322" cy="283" rx="41" ry="2.6" transform="rotate(-22 322 283)" fill="#fff" opacity="0.63"/><ellipse cx="295" cy="1117" rx="18" ry="2.6" transform="rotate(-12 295 1117)" fill="#fff" opacity="0.63"/><ellipse cx="641" cy="1059" rx="39" ry="2.8" transform="rotate(-26 641 1059)" fill="#fff" opacity="0.38"/><ellipse cx="615" cy="679" rx="17" ry="2.9" transform="rotate(-20 615 679)" fill="#fff" opacity="0.51"/><ellipse cx="684" cy="1021" rx="25" ry="2.5" transform="rotate(-14 684 1021)" fill="#fff" opacity="0.59"/><ellipse cx="425" cy="369" rx="32" ry="2.6" transform="rotate(-13 425 369)" fill="#fff" opacity="0.36"/><ellipse cx="591" cy="697" rx="21" ry="1.5" transform="rotate(-7 591 697)" fill="#fff" opacity="0.31"/><ellipse cx="655" cy="387" rx="14" ry="1.9" transform="rotate(-24 655 387)" fill="#fff" opacity="0.48"/><ellipse cx="1163" cy="137" rx="27" ry="2.8" transform="rotate(-14 1163 137)" fill="#fff" opacity="0.31"/><ellipse cx="322" cy="371" rx="51" ry="2.2" transform="rotate(-22 322 371)" fill="#fff" opacity="0.52"/><ellipse cx="639" cy="218" rx="41" ry="2.9" transform="rotate(-17 639 218)" fill="#fff" opacity="0.54"/><ellipse cx="991" cy="1158" rx="39" ry="1.3" transform="rotate(-16 991 1158)" fill="#fff" opacity="0.60"/><ellipse cx="448" cy="841" rx="28" ry="2.6" transform="rotate(-14 448 841)" fill="#fff" opacity="0.60"/><ellipse cx="1182" cy="869" rx="43" ry="2.8" transform="rotate(-23 1182 869)" fill="#fff" opacity="0.58"/><ellipse cx="806" cy="115" rx="45" ry="1.8" transform="rotate(-17 806 115)" fill="#fff" opacity="0.54"/><ellipse cx="931" cy="936" rx="32" ry="3.4" transform="rotate(-18 931 936)" fill="#fff" opacity="0.55"/><ellipse cx="1264" cy="421" rx="43" ry="3.4" transform="rotate(-26 1264 421)" fill="#fff" opacity="0.65"/><ellipse cx="844" cy="673" rx="46" ry="3.2" transform="rotate(-25 844 673)" fill="#fff" opacity="0.52"/><ellipse cx="799" cy="858" rx="53" ry="3.1" transform="rotate(-9 799 858)" fill="#fff" opacity="0.33"/><ellipse cx="566" cy="1108" rx="53" ry="3.0" transform="rotate(-20 566 1108)" fill="#fff" opacity="0.65"/><ellipse cx="696" cy="822" rx="40" ry="3.2" transform="rotate(-12 696 822)" fill="#fff" opacity="0.74"/><ellipse cx="649" cy="619" rx="40" ry="2.5" transform="rotate(-27 649 619)" fill="#fff" opacity="0.73"/><ellipse cx="433" cy="626" rx="14" ry="1.7" transform="rotate(-7 433 626)" fill="#fff" opacity="0.42"/><ellipse cx="408" cy="990" rx="23" ry="2.8" transform="rotate(-15 408 990)" fill="#fff" opacity="0.70"/><ellipse cx="628" cy="427" rx="24" ry="2.1" transform="rotate(-28 628 427)" fill="#fff" opacity="0.35"/><ellipse cx="224" cy="410" rx="45" ry="3.4" transform="rotate(-20 224 410)" fill="#fff" opacity="0.41"/><ellipse cx="402" cy="777" rx="33" ry="1.5" transform="rotate(-16 402 777)" fill="#fff" opacity="0.42"/><ellipse cx="218" cy="959" rx="17" ry="2.2" transform="rotate(-10 218 959)" fill="#fff" opacity="0.54"/><ellipse cx="1118" cy="414" rx="53" ry="1.3" transform="rotate(-7 1118 414)" fill="#fff" opacity="0.49"/><ellipse cx="44" cy="346" rx="55" ry="2.9" transform="rotate(-11 44 346)" fill="#fff" opacity="0.66"/><ellipse cx="48" cy="402" rx="32" ry="3.3" transform="rotate(-7 48 402)" fill="#fff" opacity="0.37"/><ellipse cx="1258" cy="690" rx="25" ry="1.4" transform="rotate(-18 1258 690)" fill="#fff" opacity="0.53"/><ellipse cx="600" cy="406" rx="53" ry="2.3" transform="rotate(-21 600 406)" fill="#fff" opacity="0.65"/><ellipse cx="341" cy="537" rx="17" ry="1.8" transform="rotate(-5 341 537)" fill="#fff" opacity="0.58"/><ellipse cx="686" cy="828" rx="41" ry="2.4" transform="rotate(-20 686 828)" fill="#fff" opacity="0.37"/><ellipse cx="76" cy="185" rx="30" ry="1.3" transform="rotate(-12 76 185)" fill="#fff" opacity="0.45"/><ellipse cx="328" cy="409" rx="33" ry="1.7" transform="rotate(-8 328 409)" fill="#fff" opacity="0.52"/><ellipse cx="125" cy="143" rx="50" ry="2.6" transform="rotate(-21 125 143)" fill="#fff" opacity="0.62"/><ellipse cx="97" cy="1080" rx="52" ry="2.7" transform="rotate(-27 97 1080)" fill="#fff" opacity="0.49"/><ellipse cx="1073" cy="735" rx="21" ry="1.8" transform="rotate(-27 1073 735)" fill="#fff" opacity="0.53"/><ellipse cx="264" cy="563" rx="51" ry="3.3" transform="rotate(-17 264 563)" fill="#fff" opacity="0.65"/><ellipse cx="205" cy="1148" rx="49" ry="2.3" transform="rotate(-8 205 1148)" fill="#fff" opacity="0.43"/><ellipse cx="1250" cy="420" rx="52" ry="3.1" transform="rotate(-7 1250 420)" fill="#fff" opacity="0.63"/><ellipse cx="130" cy="370" rx="40" ry="3.3" transform="rotate(-12 130 370)" fill="#fff" opacity="0.32"/><ellipse cx="469" cy="446" rx="20" ry="1.8" transform="rotate(-16 469 446)" fill="#fff" opacity="0.47"/><ellipse cx="370" cy="524" rx="53" ry="2.6" transform="rotate(-11 370 524)" fill="#fff" opacity="0.72"/><ellipse cx="78" cy="1070" rx="17" ry="1.7" transform="rotate(-11 78 1070)" fill="#fff" opacity="0.64"/><ellipse cx="799" cy="599" rx="43" ry="2.2" transform="rotate(-24 799 599)" fill="#fff" opacity="0.40"/><ellipse cx="179" cy="87" rx="53" ry="3.4" transform="rotate(-20 179 87)" fill="#fff" opacity="0.49"/><ellipse cx="384" cy="954" rx="33" ry="1.6" transform="rotate(-8 384 954)" fill="#fff" opacity="0.72"/><ellipse cx="97" cy="579" rx="22" ry="2.7" transform="rotate(-20 97 579)" fill="#fff" opacity="0.43"/><ellipse cx="413" cy="752" rx="34" ry="2.3" transform="rotate(-12 413 752)" fill="#fff" opacity="0.51"/><ellipse cx="1208" cy="555" rx="46" ry="3.3" transform="rotate(-14 1208 555)" fill="#fff" opacity="0.57"/><ellipse cx="1015" cy="873" rx="21" ry="2.2" transform="rotate(-24 1015 873)" fill="#fff" opacity="0.31"/><ellipse cx="888" cy="427" rx="23" ry="1.3" transform="rotate(-27 888 427)" fill="#fff" opacity="0.60"/><ellipse cx="482" cy="552" rx="41" ry="3.3" transform="rotate(-12 482 552)" fill="#fff" opacity="0.40"/><ellipse cx="1261" cy="258" rx="37" ry="2.7" transform="rotate(-21 1261 258)" fill="#fff" opacity="0.70"/><ellipse cx="793" cy="871" rx="18" ry="3.1" transform="rotate(-21 793 871)" fill="#fff" opacity="0.58"/><ellipse cx="949" cy="419" rx="24" ry="2.0" transform="rotate(-6 949 419)" fill="#fff" opacity="0.60"/><ellipse cx="622" cy="699" rx="40" ry="1.8" transform="rotate(-26 622 699)" fill="#fff" opacity="0.35"/><ellipse cx="758" cy="742" rx="54" ry="2.6" transform="rotate(-8 758 742)" fill="#fff" opacity="0.74"/><ellipse cx="653" cy="535" rx="33" ry="2.1" transform="rotate(-11 653 535)" fill="#fff" opacity="0.56"/><ellipse cx="191" cy="1157" rx="35" ry="2.9" transform="rotate(-15 191 1157)" fill="#fff" opacity="0.56"/><ellipse cx="751" cy="178" rx="18" ry="2.9" transform="rotate(-20 751 178)" fill="#fff" opacity="0.36"/><ellipse cx="1046" cy="915" rx="45" ry="2.1" transform="rotate(-25 1046 915)" fill="#fff" opacity="0.64"/><ellipse cx="306" cy="822" rx="42" ry="1.9" transform="rotate(-28 306 822)" fill="#fff" opacity="0.57"/><ellipse cx="1015" cy="730" rx="54" ry="1.8" transform="rotate(-11 1015 730)" fill="#fff" opacity="0.50"/><ellipse cx="756" cy="396" rx="22" ry="2.5" transform="rotate(-14 756 396)" fill="#fff" opacity="0.71"/><ellipse cx="785" cy="626" rx="40" ry="2.7" transform="rotate(-19 785 626)" fill="#fff" opacity="0.42"/><ellipse cx="882" cy="495" rx="14" ry="1.6" transform="rotate(-20 882 495)" fill="#fff" opacity="0.61"/><ellipse cx="850" cy="615" rx="47" ry="2.0" transform="rotate(-20 850 615)" fill="#fff" opacity="0.64"/><ellipse cx="878" cy="540" rx="50" ry="1.3" transform="rotate(-16 878 540)" fill="#fff" opacity="0.69"/><ellipse cx="1125" cy="269" rx="47" ry="2.4" transform="rotate(-6 1125 269)" fill="#fff" opacity="0.45"/><ellipse cx="860" cy="792" rx="55" ry="2.0" transform="rotate(-19 860 792)" fill="#fff" opacity="0.36"/><ellipse cx="884" cy="126" rx="49" ry="1.6" transform="rotate(-24 884 126)" fill="#fff" opacity="0.73"/><ellipse cx="655" cy="923" rx="27" ry="1.8" transform="rotate(-20 655 923)" fill="#fff" opacity="0.74"/><ellipse cx="277" cy="1098" rx="50" ry="2.8" transform="rotate(-22 277 1098)" fill="#fff" opacity="0.63"/><ellipse cx="1157" cy="735" rx="22" ry="2.6" transform="rotate(-6 1157 735)" fill="#fff" opacity="0.57"/><ellipse cx="224" cy="280" rx="39" ry="1.4" transform="rotate(-28 224 280)" fill="#fff" opacity="0.47"/><ellipse cx="358" cy="619" rx="16" ry="2.5" transform="rotate(-12 358 619)" fill="#fff" opacity="0.44"/><ellipse cx="758" cy="658" rx="46" ry="2.5" transform="rotate(-13 758 658)" fill="#fff" opacity="0.55"/><ellipse cx="1055" cy="156" rx="17" ry="3.2" transform="rotate(-9 1055 156)" fill="#fff" opacity="0.30"/><ellipse cx="1143" cy="753" rx="49" ry="2.8" transform="rotate(-19 1143 753)" fill="#fff" opacity="0.35"/><ellipse cx="984" cy="871" rx="32" ry="1.9" transform="rotate(-20 984 871)" fill="#fff" opacity="0.72"/><ellipse cx="612" cy="289" rx="54" ry="3.5" transform="rotate(-24 612 289)" fill="#fff" opacity="0.39"/><ellipse cx="941" cy="495" rx="33" ry="2.8" transform="rotate(-22 941 495)" fill="#fff" opacity="0.57"/><ellipse cx="292" cy="302" rx="36" ry="2.2" transform="rotate(-7 292 302)" fill="#fff" opacity="0.36"/><ellipse cx="1171" cy="349" rx="27" ry="1.5" transform="rotate(-21 1171 349)" fill="#fff" opacity="0.74"/><ellipse cx="487" cy="1018" rx="54" ry="2.8" transform="rotate(-24 487 1018)" fill="#fff" opacity="0.49"/><ellipse cx="246" cy="335" rx="27" ry="1.6" transform="rotate(-12 246 335)" fill="#fff" opacity="0.54"/><ellipse cx="399" cy="341" rx="19" ry="1.5" transform="rotate(-18 399 341)" fill="#fff" opacity="0.33"/><ellipse cx="685" cy="341" rx="45" ry="1.9" transform="rotate(-8 685 341)" fill="#fff" opacity="0.73"/><ellipse cx="1187" cy="309" rx="52" ry="2.3" transform="rotate(-8 1187 309)" fill="#fff" opacity="0.51"/><ellipse cx="708" cy="345" rx="45" ry="2.1" transform="rotate(-8 708 345)" fill="#fff" opacity="0.62"/><ellipse cx="569" cy="80" rx="24" ry="2.2" transform="rotate(-19 569 80)" fill="#fff" opacity="0.56"/><ellipse cx="46" cy="589" rx="50" ry="3.4" transform="rotate(-12 46 589)" fill="#fff" opacity="0.61"/><ellipse cx="784" cy="1208" rx="46" ry="2.3" transform="rotate(-17 784 1208)" fill="#fff" opacity="0.72"/><ellipse cx="721" cy="741" rx="26" ry="2.7" transform="rotate(-17 721 741)" fill="#fff" opacity="0.72"/><ellipse cx="1274" cy="1204" rx="53" ry="1.3" transform="rotate(-26 1274 1204)" fill="#fff" opacity="0.45"/><ellipse cx="1060" cy="694" rx="23" ry="1.5" transform="rotate(-22 1060 694)" fill="#fff" opacity="0.36"/><ellipse cx="217" cy="912" rx="21" ry="1.6" transform="rotate(-14 217 912)" fill="#fff" opacity="0.36"/><ellipse cx="1068" cy="801" rx="50" ry="2.9" transform="rotate(-11 1068 801)" fill="#fff" opacity="0.42"/><ellipse cx="562" cy="487" rx="29" ry="3.3" transform="rotate(-18 562 487)" fill="#fff" opacity="0.66"/><ellipse cx="818" cy="140" rx="21" ry="2.6" transform="rotate(-10 818 140)" fill="#fff" opacity="0.40"/><ellipse cx="348" cy="483" rx="32" ry="2.2" transform="rotate(-7 348 483)" fill="#fff" opacity="0.57"/><ellipse cx="383" cy="445" rx="34" ry="1.6" transform="rotate(-19 383 445)" fill="#fff" opacity="0.33"/><ellipse cx="850" cy="1054" rx="51" ry="2.6" transform="rotate(-19 850 1054)" fill="#fff" opacity="0.55"/><ellipse cx="726" cy="250" rx="35" ry="2.4" transform="rotate(-23 726 250)" fill="#fff" opacity="0.50"/><ellipse cx="1072" cy="791" rx="26" ry="1.8" transform="rotate(-14 1072 791)" fill="#fff" opacity="0.55"/><ellipse cx="408" cy="593" rx="30" ry="2.7" transform="rotate(-8 408 593)" fill="#fff" opacity="0.47"/><ellipse cx="704" cy="699" rx="41" ry="1.8" transform="rotate(-22 704 699)" fill="#fff" opacity="0.72"/><ellipse cx="219" cy="837" rx="24" ry="2.4" transform="rotate(-18 219 837)" fill="#fff" opacity="0.41"/><ellipse cx="257" cy="1159" rx="14" ry="1.6" transform="rotate(-11 257 1159)" fill="#fff" opacity="0.47"/><ellipse cx="281" cy="948" rx="54" ry="1.7" transform="rotate(-12 281 948)" fill="#fff" opacity="0.48"/><ellipse cx="1271" cy="739" rx="51" ry="2.7" transform="rotate(-25 1271 739)" fill="#fff" opacity="0.50"/><ellipse cx="910" cy="222" rx="16" ry="3.5" transform="rotate(-7 910 222)" fill="#fff" opacity="0.59"/><ellipse cx="118" cy="861" rx="55" ry="3.0" transform="rotate(-12 118 861)" fill="#fff" opacity="0.50"/><ellipse cx="820" cy="1123" rx="34" ry="1.4" transform="rotate(-25 820 1123)" fill="#fff" opacity="0.73"/><ellipse cx="916" cy="1134" rx="19" ry="1.5" transform="rotate(-12 916 1134)" fill="#fff" opacity="0.49"/><ellipse cx="611" cy="315" rx="45" ry="3.0" transform="rotate(-11 611 315)" fill="#fff" opacity="0.49"/><ellipse cx="646" cy="505" rx="32" ry="2.0" transform="rotate(-17 646 505)" fill="#fff" opacity="0.73"/><ellipse cx="1029" cy="202" rx="41" ry="3.1" transform="rotate(-20 1029 202)" fill="#fff" opacity="0.70"/><ellipse cx="1200" cy="126" rx="39" ry="2.1" transform="rotate(-17 1200 126)" fill="#fff" opacity="0.55"/><ellipse cx="1101" cy="779" rx="50" ry="1.8" transform="rotate(-10 1101 779)" fill="#fff" opacity="0.48"/><ellipse cx="265" cy="980" rx="37" ry="1.8" transform="rotate(-7 265 980)" fill="#fff" opacity="0.52"/><ellipse cx="872" cy="1192" rx="26" ry="2.5" transform="rotate(-15 872 1192)" fill="#fff" opacity="0.43"/><ellipse cx="699" cy="1169" rx="42" ry="1.8" transform="rotate(-12 699 1169)" fill="#fff" opacity="0.58"/><ellipse cx="495" cy="826" rx="28" ry="3.0" transform="rotate(-19 495 826)" fill="#fff" opacity="0.67"/><ellipse cx="407" cy="244" rx="26" ry="1.5" transform="rotate(-8 407 244)" fill="#fff" opacity="0.75"/><ellipse cx="554" cy="324" rx="50" ry="3.2" transform="rotate(-22 554 324)" fill="#fff" opacity="0.44"/><ellipse cx="654" cy="198" rx="21" ry="2.1" transform="rotate(-25 654 198)" fill="#fff" opacity="0.36"/><ellipse cx="786" cy="394" rx="51" ry="3.4" transform="rotate(-13 786 394)" fill="#fff" opacity="0.42"/><ellipse cx="977" cy="439" rx="49" ry="2.2" transform="rotate(-12 977 439)" fill="#fff" opacity="0.64"/><ellipse cx="907" cy="921" rx="27" ry="1.6" transform="rotate(-20 907 921)" fill="#fff" opacity="0.73"/><ellipse cx="85" cy="373" rx="26" ry="2.2" transform="rotate(-8 85 373)" fill="#fff" opacity="0.38"/><ellipse cx="169" cy="65" rx="27" ry="2.9" transform="rotate(-18 169 65)" fill="#fff" opacity="0.59"/><ellipse cx="673" cy="464" rx="30" ry="1.3" transform="rotate(-6 673 464)" fill="#fff" opacity="0.63"/><ellipse cx="160" cy="280" rx="46" ry="2.4" transform="rotate(-11 160 280)" fill="#fff" opacity="0.64"/><ellipse cx="220" cy="1002" rx="21" ry="1.6" transform="rotate(-11 220 1002)" fill="#fff" opacity="0.67"/><ellipse cx="414" cy="493" rx="44" ry="1.9" transform="rotate(-18 414 493)" fill="#fff" opacity="0.75"/><ellipse cx="200" cy="1143" rx="50" ry="3.5" transform="rotate(-22 200 1143)" fill="#fff" opacity="0.39"/><ellipse cx="580" cy="243" rx="52" ry="2.5" transform="rotate(-9 580 243)" fill="#fff" opacity="0.52"/><ellipse cx="655" cy="1158" rx="18" ry="1.8" transform="rotate(-8 655 1158)" fill="#fff" opacity="0.57"/><ellipse cx="1005" cy="1203" rx="45" ry="2.6" transform="rotate(-11 1005 1203)" fill="#fff" opacity="0.54"/><ellipse cx="310" cy="423" rx="52" ry="2.4" transform="rotate(-27 310 423)" fill="#fff" opacity="0.59"/><ellipse cx="1266" cy="773" rx="33" ry="2.3" transform="rotate(-13 1266 773)" fill="#fff" opacity="0.58"/><ellipse cx="643" cy="1097" rx="50" ry="3.0" transform="rotate(-11 643 1097)" fill="#fff" opacity="0.62"/><ellipse cx="284" cy="616" rx="24" ry="1.7" transform="rotate(-6 284 616)" fill="#fff" opacity="0.40"/><ellipse cx="1046" cy="1016" rx="30" ry="1.3" transform="rotate(-24 1046 1016)" fill="#fff" opacity="0.59"/><ellipse cx="915" cy="457" rx="38" ry="1.6" transform="rotate(-13 915 457)" fill="#fff" opacity="0.65"/><ellipse cx="1006" cy="700" rx="37" ry="1.3" transform="rotate(-22 1006 700)" fill="#fff" opacity="0.48"/><ellipse cx="129" cy="130" rx="53" ry="2.8" transform="rotate(-15 129 130)" fill="#fff" opacity="0.61"/><ellipse cx="1112" cy="784" rx="31" ry="2.1" transform="rotate(-6 1112 784)" fill="#fff" opacity="0.73"/><ellipse cx="227" cy="997" rx="40" ry="2.0" transform="rotate(-12 227 997)" fill="#fff" opacity="0.42"/><ellipse cx="960" cy="695" rx="37" ry="1.4" transform="rotate(-7 960 695)" fill="#fff" opacity="0.73"/><ellipse cx="979" cy="386" rx="43" ry="1.5" transform="rotate(-15 979 386)" fill="#fff" opacity="0.46"/><ellipse cx="621" cy="381" rx="16" ry="2.2" transform="rotate(-23 621 381)" fill="#fff" opacity="0.38"/><ellipse cx="449" cy="189" rx="13" ry="3.4" transform="rotate(-27 449 189)" fill="#fff" opacity="0.70"/><ellipse cx="558" cy="184" rx="31" ry="2.4" transform="rotate(-27 558 184)" fill="#fff" opacity="0.54"/><ellipse cx="49" cy="392" rx="43" ry="3.2" transform="rotate(-24 49 392)" fill="#fff" opacity="0.48"/><ellipse cx="1209" cy="411" rx="18" ry="1.8" transform="rotate(-8 1209 411)" fill="#fff" opacity="0.46"/><ellipse cx="861" cy="1136" rx="39" ry="1.7" transform="rotate(-17 861 1136)" fill="#fff" opacity="0.45"/><ellipse cx="632" cy="761" rx="54" ry="2.8" transform="rotate(-16 632 761)" fill="#fff" opacity="0.66"/><ellipse cx="666" cy="269" rx="41" ry="1.9" transform="rotate(-23 666 269)" fill="#fff" opacity="0.47"/><ellipse cx="638" cy="82" rx="28" ry="3.4" transform="rotate(-16 638 82)" fill="#fff" opacity="0.47"/><ellipse cx="604" cy="858" rx="63" ry="7.2" transform="rotate(-12 604 858)" fill="#fff" opacity="0.15"/><ellipse cx="563" cy="866" rx="51" ry="9.1" transform="rotate(-21 563 866)" fill="#fff" opacity="0.19"/><ellipse cx="59" cy="191" rx="60" ry="10.1" transform="rotate(-7 59 191)" fill="#fff" opacity="0.25"/><ellipse cx="1233" cy="272" rx="36" ry="5.1" transform="rotate(-8 1233 272)" fill="#000" opacity="0.13"/><ellipse cx="211" cy="1103" rx="41" ry="5.9" transform="rotate(-12 211 1103)" fill="#000" opacity="0.23"/><ellipse cx="756" cy="661" rx="67" ry="8.1" transform="rotate(-7 756 661)" fill="#fff" opacity="0.25"/><ellipse cx="448" cy="93" rx="60" ry="4.2" transform="rotate(-11 448 93)" fill="#fff" opacity="0.19"/><ellipse cx="1068" cy="897" rx="77" ry="6.7" transform="rotate(-9 1068 897)" fill="#000" opacity="0.22"/><ellipse cx="1112" cy="595" rx="65" ry="5.6" transform="rotate(-7 1112 595)" fill="#fff" opacity="0.19"/><ellipse cx="1079" cy="649" rx="69" ry="7.7" transform="rotate(-20 1079 649)" fill="#fff" opacity="0.24"/><ellipse cx="83" cy="83" rx="60" ry="4.6" transform="rotate(-15 83 83)" fill="#000" opacity="0.16"/><ellipse cx="997" cy="722" rx="94" ry="5.6" transform="rotate(-17 997 722)" fill="#fff" opacity="0.21"/><ellipse cx="568" cy="261" rx="54" ry="8.5" transform="rotate(-4 568 261)" fill="#fff" opacity="0.22"/><ellipse cx="1069" cy="543" rx="63" ry="10.7" transform="rotate(-9 1069 543)" fill="#000" opacity="0.17"/><ellipse cx="943" cy="385" rx="45" ry="6.0" transform="rotate(-10 943 385)" fill="#fff" opacity="0.22"/><ellipse cx="767" cy="607" rx="91" ry="5.1" transform="rotate(-12 767 607)" fill="#000" opacity="0.28"/><ellipse cx="228" cy="177" rx="27" ry="9.9" transform="rotate(-16 228 177)" fill="#fff" opacity="0.25"/><ellipse cx="72" cy="401" rx="45" ry="6.1" transform="rotate(-24 72 401)" fill="#000" opacity="0.15"/><ellipse cx="598" cy="663" rx="99" ry="4.9" transform="rotate(-22 598 663)" fill="#000" opacity="0.26"/><ellipse cx="705" cy="399" rx="92" ry="11.5" transform="rotate(-12 705 399)" fill="#000" opacity="0.12"/><ellipse cx="909" cy="703" rx="46" ry="7.2" transform="rotate(-24 909 703)" fill="#fff" opacity="0.17"/><ellipse cx="518" cy="587" rx="38" ry="9.7" transform="rotate(-16 518 587)" fill="#fff" opacity="0.17"/><ellipse cx="406" cy="134" rx="73" ry="9.9" transform="rotate(-24 406 134)" fill="#fff" opacity="0.16"/><ellipse cx="668" cy="518" rx="35" ry="6.3" transform="rotate(-12 668 518)" fill="#fff" opacity="0.26"/><ellipse cx="1235" cy="519" rx="30" ry="6.7" transform="rotate(-17 1235 519)" fill="#000" opacity="0.11"/><ellipse cx="1164" cy="1087" rx="35" ry="4.7" transform="rotate(-3 1164 1087)" fill="#000" opacity="0.13"/><ellipse cx="319" cy="287" rx="27" ry="7.7" transform="rotate(-8 319 287)" fill="#fff" opacity="0.11"/><ellipse cx="203" cy="962" rx="93" ry="11.0" transform="rotate(-13 203 962)" fill="#fff" opacity="0.13"/><ellipse cx="126" cy="947" rx="47" ry="11.1" transform="rotate(-19 126 947)" fill="#fff" opacity="0.23"/><ellipse cx="335" cy="616" rx="57" ry="5.2" transform="rotate(-13 335 616)" fill="#fff" opacity="0.20"/><ellipse cx="459" cy="760" rx="40" ry="8.2" transform="rotate(-20 459 760)" fill="#000" opacity="0.24"/><ellipse cx="399" cy="125" rx="47" ry="8.3" transform="rotate(-20 399 125)" fill="#fff" opacity="0.12"/><ellipse cx="423" cy="296" rx="55" ry="10.7" transform="rotate(-9 423 296)" fill="#fff" opacity="0.26"/><ellipse cx="453" cy="628" rx="29" ry="9.5" transform="rotate(-7 453 628)" fill="#fff" opacity="0.26"/><ellipse cx="839" cy="981" rx="47" ry="8.5" transform="rotate(-21 839 981)" fill="#fff" opacity="0.27"/><ellipse cx="258" cy="1191" rx="72" ry="5.7" transform="rotate(-6 258 1191)" fill="#fff" opacity="0.21"/><ellipse cx="1123" cy="412" rx="46" ry="8.6" transform="rotate(-21 1123 412)" fill="#fff" opacity="0.23"/><ellipse cx="287" cy="189" rx="37" ry="8.6" transform="rotate(-5 287 189)" fill="#fff" opacity="0.24"/><ellipse cx="739" cy="977" rx="50" ry="6.9" transform="rotate(-5 739 977)" fill="#fff" opacity="0.15"/><ellipse cx="740" cy="105" rx="67" ry="10.4" transform="rotate(-5 740 105)" fill="#fff" opacity="0.18"/><ellipse cx="87" cy="1100" rx="76" ry="10.5" transform="rotate(-15 87 1100)" fill="#fff" opacity="0.21"/><ellipse cx="316" cy="258" rx="81" ry="11.0" transform="rotate(-20 316 258)" fill="#fff" opacity="0.20"/><ellipse cx="424" cy="1026" rx="46" ry="10.2" transform="rotate(-16 424 1026)" fill="#fff" opacity="0.13"/><ellipse cx="222" cy="163" rx="27" ry="6.8" transform="rotate(-24 222 163)" fill="#fff" opacity="0.13"/><ellipse cx="354" cy="877" rx="41" ry="4.1" transform="rotate(-25 354 877)" fill="#fff" opacity="0.12"/><ellipse cx="604" cy="335" rx="29" ry="9.1" transform="rotate(-18 604 335)" fill="#000" opacity="0.13"/><ellipse cx="918" cy="442" rx="67" ry="5.5" transform="rotate(-13 918 442)" fill="#fff" opacity="0.11"/><ellipse cx="1186" cy="715" rx="61" ry="7.2" transform="rotate(-9 1186 715)" fill="#fff" opacity="0.20"/><ellipse cx="587" cy="510" rx="79" ry="5.4" transform="rotate(-17 587 510)" fill="#000" opacity="0.14"/><ellipse cx="1105" cy="408" rx="80" ry="4.4" transform="rotate(-5 1105 408)" fill="#fff" opacity="0.18"/><ellipse cx="171" cy="747" rx="86" ry="6.3" transform="rotate(-23 171 747)" fill="#fff" opacity="0.17"/><ellipse cx="980" cy="119" rx="49" ry="11.3" transform="rotate(-19 980 119)" fill="#fff" opacity="0.12"/><ellipse cx="1052" cy="563" rx="77" ry="10.0" transform="rotate(-7 1052 563)" fill="#fff" opacity="0.13"/><ellipse cx="1180" cy="963" rx="64" ry="7.2" transform="rotate(-3 1180 963)" fill="#fff" opacity="0.28"/><ellipse cx="665" cy="1084" rx="91" ry="8.0" transform="rotate(-22 665 1084)" fill="#000" opacity="0.21"/><ellipse cx="453" cy="706" rx="63" ry="9.2" transform="rotate(-7 453 706)" fill="#000" opacity="0.27"/><ellipse cx="1217" cy="420" rx="51" ry="10.0" transform="rotate(-4 1217 420)" fill="#fff" opacity="0.19"/><ellipse cx="1059" cy="411" rx="71" ry="11.5" transform="rotate(-25 1059 411)" fill="#fff" opacity="0.12"/><ellipse cx="739" cy="533" rx="84" ry="7.6" transform="rotate(-22 739 533)" fill="#fff" opacity="0.16"/><ellipse cx="832" cy="621" rx="26" ry="12.0" transform="rotate(-23 832 621)" fill="#fff" opacity="0.15"/><ellipse cx="1197" cy="845" rx="54" ry="10.0" transform="rotate(-10 1197 845)" fill="#fff" opacity="0.20"/><ellipse cx="722" cy="671" rx="44" ry="10.2" transform="rotate(-23 722 671)" fill="#fff" opacity="0.12"/><ellipse cx="97" cy="1063" rx="39" ry="7.7" transform="rotate(-19 97 1063)" fill="#fff" opacity="0.19"/><ellipse cx="283" cy="678" rx="98" ry="5.2" transform="rotate(-20 283 678)" fill="#000" opacity="0.14"/><ellipse cx="55" cy="1161" rx="97" ry="4.3" transform="rotate(-7 55 1161)" fill="#000" opacity="0.20"/><ellipse cx="1129" cy="179" rx="73" ry="9.4" transform="rotate(-10 1129 179)" fill="#000" opacity="0.14"/><ellipse cx="819" cy="386" rx="70" ry="9.9" transform="rotate(-24 819 386)" fill="#fff" opacity="0.23"/><ellipse cx="538" cy="714" rx="50" ry="11.0" transform="rotate(-20 538 714)" fill="#fff" opacity="0.12"/><ellipse cx="588" cy="708" rx="40" ry="11.4" transform="rotate(-13 588 708)" fill="#fff" opacity="0.17"/><ellipse cx="87" cy="1117" rx="88" ry="6.1" transform="rotate(-15 87 1117)" fill="#fff" opacity="0.11"/><ellipse cx="1241" cy="739" rx="98" ry="7.8" transform="rotate(-6 1241 739)" fill="#fff" opacity="0.25"/><ellipse cx="607" cy="636" rx="28" ry="11.6" transform="rotate(-23 607 636)" fill="#fff" opacity="0.20"/><ellipse cx="255" cy="452" rx="47" ry="4.1" transform="rotate(-16 255 452)" fill="#fff" opacity="0.17"/><ellipse cx="903" cy="1148" rx="90" ry="6.0" transform="rotate(-12 903 1148)" fill="#fff" opacity="0.22"/><ellipse cx="213" cy="431" rx="71" ry="6.5" transform="rotate(-5 213 431)" fill="#fff" opacity="0.17"/><ellipse cx="124" cy="1090" rx="98" ry="11.7" transform="rotate(-17 124 1090)" fill="#fff" opacity="0.25"/><ellipse cx="172" cy="130" rx="75" ry="11.9" transform="rotate(-24 172 130)" fill="#fff" opacity="0.25"/><ellipse cx="626" cy="210" rx="63" ry="8.0" transform="rotate(-21 626 210)" fill="#fff" opacity="0.26"/><ellipse cx="245" cy="768" rx="70" ry="11.5" transform="rotate(-3 245 768)" fill="#000" opacity="0.26"/><ellipse cx="560" cy="223" rx="81" ry="4.7" transform="rotate(-7 560 223)" fill="#fff" opacity="0.21"/><ellipse cx="1206" cy="1056" rx="80" ry="9.0" transform="rotate(-13 1206 1056)" fill="#000" opacity="0.19"/><ellipse cx="282" cy="846" rx="56" ry="7.6" transform="rotate(-6 282 846)" fill="#fff" opacity="0.17"/><ellipse cx="1032" cy="1013" rx="43" ry="8.9" transform="rotate(-15 1032 1013)" fill="#000" opacity="0.21"/><ellipse cx="274" cy="330" rx="84" ry="10.3" transform="rotate(-17 274 330)" fill="#000" opacity="0.21"/><ellipse cx="703" cy="355" rx="51" ry="11.7" transform="rotate(-6 703 355)" fill="#000" opacity="0.12"/><ellipse cx="1107" cy="561" rx="73" ry="8.8" transform="rotate(-12 1107 561)" fill="#000" opacity="0.26"/><ellipse cx="1102" cy="347" rx="31" ry="6.4" transform="rotate(-14 1102 347)" fill="#fff" opacity="0.24"/><ellipse cx="1237" cy="264" rx="53" ry="8.6" transform="rotate(-12 1237 264)" fill="#fff" opacity="0.23"/><ellipse cx="164" cy="955" rx="85" ry="4.6" transform="rotate(-7 164 955)" fill="#fff" opacity="0.10"/><ellipse cx="808" cy="390" rx="32" ry="6.1" transform="rotate(-11 808 390)" fill="#fff" opacity="0.20"/><ellipse cx="252" cy="767" rx="48" ry="4.3" transform="rotate(-21 252 767)" fill="#000" opacity="0.12"/><ellipse cx="87" cy="1181" rx="52" ry="10.1" transform="rotate(-16 87 1181)" fill="#000" opacity="0.19"/><ellipse cx="1206" cy="290" rx="97" ry="10.2" transform="rotate(-6 1206 290)" fill="#fff" opacity="0.12"/><ellipse cx="846" cy="719" rx="68" ry="7.6" transform="rotate(-4 846 719)" fill="#fff" opacity="0.28"/><ellipse cx="215" cy="661" rx="78" ry="5.5" transform="rotate(-5 215 661)" fill="#000" opacity="0.24"/><ellipse cx="406" cy="837" rx="91" ry="12.0" transform="rotate(-19 406 837)" fill="#fff" opacity="0.25"/><ellipse cx="487" cy="324" rx="33" ry="4.3" transform="rotate(-16 487 324)" fill="#000" opacity="0.12"/><ellipse cx="437" cy="202" rx="40" ry="6.1" transform="rotate(-4 437 202)" fill="#fff" opacity="0.18"/><ellipse cx="707" cy="1162" rx="87" ry="11.4" transform="rotate(-6 707 1162)" fill="#fff" opacity="0.23"/><ellipse cx="450" cy="752" rx="50" ry="11.4" transform="rotate(-19 450 752)" fill="#000" opacity="0.28"/><ellipse cx="459" cy="909" rx="68" ry="5.7" transform="rotate(-22 459 909)" fill="#000" opacity="0.26"/><ellipse cx="669" cy="1019" rx="61" ry="7.8" transform="rotate(-21 669 1019)" fill="#fff" opacity="0.27"/><ellipse cx="864" cy="502" rx="78" ry="7.0" transform="rotate(-21 864 502)" fill="#fff" opacity="0.16"/><ellipse cx="1106" cy="643" rx="74" ry="11.5" transform="rotate(-11 1106 643)" fill="#000" opacity="0.28"/><ellipse cx="1117" cy="919" rx="68" ry="8.7" transform="rotate(-21 1117 919)" fill="#000" opacity="0.10"/><ellipse cx="1139" cy="508" rx="70" ry="7.5" transform="rotate(-6 1139 508)" fill="#000" opacity="0.23"/><ellipse cx="828" cy="294" rx="96" ry="5.3" transform="rotate(-5 828 294)" fill="#000" opacity="0.20"/><ellipse cx="1254" cy="276" rx="76" ry="6.1" transform="rotate(-22 1254 276)" fill="#fff" opacity="0.24"/><ellipse cx="1141" cy="828" rx="73" ry="5.3" transform="rotate(-3 1141 828)" fill="#fff" opacity="0.16"/><ellipse cx="72" cy="413" rx="64" ry="7.8" transform="rotate(-16 72 413)" fill="#000" opacity="0.17"/><ellipse cx="837" cy="457" rx="33" ry="6.9" transform="rotate(-10 837 457)" fill="#000" opacity="0.23"/><ellipse cx="183" cy="773" rx="70" ry="7.9" transform="rotate(-4 183 773)" fill="#fff" opacity="0.17"/><ellipse cx="77" cy="199" rx="40" ry="5.5" transform="rotate(-21 77 199)" fill="#fff" opacity="0.12"/><ellipse cx="765" cy="615" rx="67" ry="6.3" transform="rotate(-6 765 615)" fill="#000" opacity="0.23"/><ellipse cx="67" cy="44" rx="28" ry="9.8" transform="rotate(-24 67 44)" fill="#fff" opacity="0.18"/><ellipse cx="497" cy="390" rx="95" ry="11.6" transform="rotate(-8 497 390)" fill="#fff" opacity="0.20"/><ellipse cx="906" cy="313" rx="36" ry="5.2" transform="rotate(-23 906 313)" fill="#fff" opacity="0.17"/><ellipse cx="297" cy="139" rx="50" ry="7.7" transform="rotate(-6 297 139)" fill="#fff" opacity="0.26"/><ellipse cx="361" cy="1003" rx="46" ry="8.7" transform="rotate(-13 361 1003)" fill="#fff" opacity="0.14"/><ellipse cx="365" cy="972" rx="43" ry="10.3" transform="rotate(-21 365 972)" fill="#000" opacity="0.10"/><ellipse cx="1128" cy="784" rx="44" ry="8.0" transform="rotate(-18 1128 784)" fill="#000" opacity="0.22"/><ellipse cx="247" cy="1208" rx="28" ry="5.1" transform="rotate(-18 247 1208)" fill="#fff" opacity="0.16"/><ellipse cx="651" cy="225" rx="87" ry="9.7" transform="rotate(-21 651 225)" fill="#000" opacity="0.13"/><ellipse cx="671" cy="785" rx="79" ry="5.9" transform="rotate(-6 671 785)" fill="#fff" opacity="0.26"/><ellipse cx="188" cy="246" rx="79" ry="4.5" transform="rotate(-11 188 246)" fill="#000" opacity="0.23"/><ellipse cx="222" cy="325" rx="58" ry="10.8" transform="rotate(-7 222 325)" fill="#000" opacity="0.17"/><ellipse cx="707" cy="271" rx="47" ry="11.5" transform="rotate(-19 707 271)" fill="#fff" opacity="0.17"/><ellipse cx="1191" cy="115" rx="69" ry="9.3" transform="rotate(-22 1191 115)" fill="#000" opacity="0.12"/><ellipse cx="458" cy="858" rx="98" ry="9.3" transform="rotate(-16 458 858)" fill="#fff" opacity="0.28"/><ellipse cx="583" cy="592" rx="64" ry="4.8" transform="rotate(-11 583 592)" fill="#fff" opacity="0.23"/><ellipse cx="761" cy="1102" rx="72" ry="9.5" transform="rotate(-6 761 1102)" fill="#fff" opacity="0.23"/><ellipse cx="1221" cy="1146" rx="31" ry="12.0" transform="rotate(-21 1221 1146)" fill="#fff" opacity="0.26"/><ellipse cx="1004" cy="447" rx="46" ry="5.4" transform="rotate(-22 1004 447)" fill="#000" opacity="0.12"/><ellipse cx="1052" cy="671" rx="89" ry="11.9" transform="rotate(-15 1052 671)" fill="#fff" opacity="0.13"/><ellipse cx="179" cy="643" rx="88" ry="5.0" transform="rotate(-19 179 643)" fill="#000" opacity="0.22"/><ellipse cx="1108" cy="915" rx="67" ry="10.2" transform="rotate(-22 1108 915)" fill="#fff" opacity="0.25"/><ellipse cx="513" cy="992" rx="59" ry="4.3" transform="rotate(-10 513 992)" fill="#fff" opacity="0.11"/><ellipse cx="309" cy="523" rx="56" ry="9.6" transform="rotate(-11 309 523)" fill="#000" opacity="0.16"/><ellipse cx="1000" cy="120" rx="69" ry="9.8" transform="rotate(-11 1000 120)" fill="#000" opacity="0.10"/><ellipse cx="833" cy="960" rx="73" ry="11.9" transform="rotate(-10 833 960)" fill="#fff" opacity="0.18"/><ellipse cx="333" cy="174" rx="54" ry="4.2" transform="rotate(-13 333 174)" fill="#000" opacity="0.20"/><ellipse cx="793" cy="591" rx="77" ry="10.3" transform="rotate(-7 793 591)" fill="#000" opacity="0.22"/><ellipse cx="748" cy="821" rx="40" ry="7.0" transform="rotate(-14 748 821)" fill="#000" opacity="0.15"/><ellipse cx="393" cy="526" rx="83" ry="11.9" transform="rotate(-6 393 526)" fill="#fff" opacity="0.26"/><ellipse cx="672" cy="765" rx="27" ry="9.8" transform="rotate(-7 672 765)" fill="#fff" opacity="0.16"/><ellipse cx="159" cy="1136" rx="57" ry="7.7" transform="rotate(-20 159 1136)" fill="#fff" opacity="0.26"/><ellipse cx="549" cy="653" rx="47" ry="9.6" transform="rotate(-11 549 653)" fill="#000" opacity="0.25"/><ellipse cx="662" cy="1173" rx="27" ry="9.0" transform="rotate(-17 662 1173)" fill="#000" opacity="0.12"/><ellipse cx="1228" cy="294" rx="61" ry="10.9" transform="rotate(-23 1228 294)" fill="#fff" opacity="0.10"/><ellipse cx="810" cy="88" rx="88" ry="10.1" transform="rotate(-12 810 88)" fill="#fff" opacity="0.14"/><ellipse cx="312" cy="1208" rx="66" ry="11.3" transform="rotate(-13 312 1208)" fill="#fff" opacity="0.21"/><ellipse cx="580" cy="409" rx="98" ry="12.0" transform="rotate(-22 580 409)" fill="#fff" opacity="0.25"/><ellipse cx="299" cy="316" rx="29" ry="10.7" transform="rotate(-23 299 316)" fill="#fff" opacity="0.25"/><ellipse cx="1258" cy="175" rx="86" ry="4.7" transform="rotate(-23 1258 175)" fill="#000" opacity="0.25"/><ellipse cx="949" cy="1193" rx="61" ry="7.4" transform="rotate(-5 949 1193)" fill="#fff" opacity="0.21"/><ellipse cx="893" cy="564" rx="28" ry="11.1" transform="rotate(-8 893 564)" fill="#fff" opacity="0.12"/><ellipse cx="373" cy="556" rx="37" ry="4.7" transform="rotate(-15 373 556)" fill="#fff" opacity="0.23"/><ellipse cx="1090" cy="1107" rx="81" ry="6.0" transform="rotate(-8 1090 1107)" fill="#000" opacity="0.23"/><ellipse cx="58" cy="1106" rx="38" ry="11.0" transform="rotate(-4 58 1106)" fill="#fff" opacity="0.18"/><ellipse cx="130" cy="134" rx="89" ry="9.0" transform="rotate(-19 130 134)" fill="#000" opacity="0.13"/><ellipse cx="985" cy="361" rx="29" ry="10.6" transform="rotate(-18 985 361)" fill="#fff" opacity="0.13"/><ellipse cx="493" cy="656" rx="59" ry="8.3" transform="rotate(-19 493 656)" fill="#fff" opacity="0.19"/><ellipse cx="300" cy="532" rx="60" ry="7.6" transform="rotate(-17 300 532)" fill="#fff" opacity="0.21"/><ellipse cx="225" cy="565" rx="99" ry="4.0" transform="rotate(-10 225 565)" fill="#fff" opacity="0.17"/><ellipse cx="937" cy="342" rx="30" ry="9.1" transform="rotate(-3 937 342)" fill="#fff" opacity="0.18"/><ellipse cx="674" cy="835" rx="75" ry="10.1" transform="rotate(-11 674 835)" fill="#fff" opacity="0.22"/><ellipse cx="351" cy="1072" rx="71" ry="8.0" transform="rotate(-11 351 1072)" fill="#000" opacity="0.16"/><ellipse cx="1168" cy="291" rx="52" ry="8.7" transform="rotate(-14 1168 291)" fill="#000" opacity="0.12"/><ellipse cx="986" cy="204" rx="61" ry="4.9" transform="rotate(-23 986 204)" fill="#000" opacity="0.28"/><ellipse cx="617" cy="129" rx="37" ry="8.1" transform="rotate(-5 617 129)" fill="#000" opacity="0.27"/><ellipse cx="672" cy="301" rx="88" ry="5.1" transform="rotate(-18 672 301)" fill="#fff" opacity="0.13"/><ellipse cx="1111" cy="557" rx="50" ry="11.3" transform="rotate(-23 1111 557)" fill="#000" opacity="0.24"/><ellipse cx="1160" cy="343" rx="90" ry="10.8" transform="rotate(-18 1160 343)" fill="#fff" opacity="0.14"/><ellipse cx="133" cy="716" rx="48" ry="9.3" transform="rotate(-23 133 716)" fill="#000" opacity="0.22"/><ellipse cx="750" cy="886" rx="38" ry="6.6" transform="rotate(-9 750 886)" fill="#fff" opacity="0.22"/><ellipse cx="76" cy="498" rx="51" ry="11.1" transform="rotate(-14 76 498)" fill="#000" opacity="0.16"/><ellipse cx="588" cy="439" rx="27" ry="9.0" transform="rotate(-5 588 439)" fill="#fff" opacity="0.17"/><ellipse cx="1125" cy="1156" rx="97" ry="10.0" transform="rotate(-21 1125 1156)" fill="#000" opacity="0.17"/><ellipse cx="1029" cy="960" rx="86" ry="5.2" transform="rotate(-20 1029 960)" fill="#000" opacity="0.28"/><ellipse cx="773" cy="542" rx="79" ry="4.0" transform="rotate(-7 773 542)" fill="#fff" opacity="0.26"/><ellipse cx="474" cy="851" rx="41" ry="10.2" transform="rotate(-7 474 851)" fill="#fff" opacity="0.21"/><ellipse cx="895" cy="940" rx="93" ry="10.1" transform="rotate(-5 895 940)" fill="#000" opacity="0.23"/><ellipse cx="287" cy="1105" rx="32" ry="10.9" transform="rotate(-9 287 1105)" fill="#fff" opacity="0.13"/><ellipse cx="924" cy="296" rx="51" ry="9.4" transform="rotate(-11 924 296)" fill="#fff" opacity="0.20"/><ellipse cx="433" cy="1041" rx="97" ry="10.8" transform="rotate(-15 433 1041)" fill="#fff" opacity="0.14"/><ellipse cx="530" cy="821" rx="32" ry="6.3" transform="rotate(-23 530 821)" fill="#000" opacity="0.12"/><ellipse cx="708" cy="966" rx="53" ry="11.1" transform="rotate(-14 708 966)" fill="#000" opacity="0.27"/><ellipse cx="440" cy="232" rx="84" ry="8.7" transform="rotate(-4 440 232)" fill="#fff" opacity="0.19"/><ellipse cx="243" cy="1129" rx="30" ry="5.5" transform="rotate(-3 243 1129)" fill="#fff" opacity="0.11"/><ellipse cx="1266" cy="119" rx="56" ry="10.3" transform="rotate(-4 1266 119)" fill="#fff" opacity="0.20"/><ellipse cx="564" cy="913" rx="30" ry="9.2" transform="rotate(-20 564 913)" fill="#000" opacity="0.23"/><ellipse cx="74" cy="567" rx="42" ry="8.1" transform="rotate(-25 74 567)" fill="#000" opacity="0.18"/><ellipse cx="485" cy="755" rx="80" ry="7.9" transform="rotate(-16 485 755)" fill="#fff" opacity="0.15"/><ellipse cx="954" cy="323" rx="34" ry="9.6" transform="rotate(-19 954 323)" fill="#fff" opacity="0.24"/><ellipse cx="154" cy="444" rx="95" ry="10.7" transform="rotate(-11 154 444)" fill="#fff" opacity="0.28"/><ellipse cx="1008" cy="1061" rx="62" ry="11.1" transform="rotate(-19 1008 1061)" fill="#fff" opacity="0.27"/><ellipse cx="1051" cy="1163" rx="76" ry="9.4" transform="rotate(-23 1051 1163)" fill="#000" opacity="0.23"/><ellipse cx="1151" cy="982" rx="91" ry="9.9" transform="rotate(-19 1151 982)" fill="#fff" opacity="0.21"/><ellipse cx="1122" cy="740" rx="56" ry="9.7" transform="rotate(-8 1122 740)" fill="#000" opacity="0.21"/><ellipse cx="862" cy="709" rx="33" ry="6.2" transform="rotate(-22 862 709)" fill="#000" opacity="0.19"/><ellipse cx="983" cy="732" rx="35" ry="9.6" transform="rotate(-8 983 732)" fill="#fff" opacity="0.11"/><ellipse cx="625" cy="1091" rx="94" ry="8.9" transform="rotate(-7 625 1091)" fill="#fff" opacity="0.13"/><ellipse cx="903" cy="916" rx="59" ry="5.9" transform="rotate(-17 903 916)" fill="#fff" opacity="0.13"/><ellipse cx="877" cy="767" rx="84" ry="6.3" transform="rotate(-12 877 767)" fill="#fff" opacity="0.24"/><ellipse cx="256" cy="377" rx="48" ry="6.5" transform="rotate(-10 256 377)" fill="#000" opacity="0.17"/><ellipse cx="1210" cy="720" rx="93" ry="7.4" transform="rotate(-22 1210 720)" fill="#fff" opacity="0.11"/><ellipse cx="73" cy="132" rx="70" ry="7.3" transform="rotate(-24 73 132)" fill="#fff" opacity="0.16"/><ellipse cx="243" cy="481" rx="43" ry="8.0" transform="rotate(-5 243 481)" fill="#fff" opacity="0.21"/><ellipse cx="1048" cy="60" rx="32" ry="10.6" transform="rotate(-14 1048 60)" fill="#fff" opacity="0.17"/><ellipse cx="352" cy="603" rx="85" ry="9.7" transform="rotate(-24 352 603)" fill="#fff" opacity="0.15"/><ellipse cx="797" cy="505" rx="92" ry="8.2" transform="rotate(-6 797 505)" fill="#fff" opacity="0.15"/><ellipse cx="507" cy="48" rx="74" ry="8.1" transform="rotate(-18 507 48)" fill="#000" opacity="0.16"/><ellipse cx="821" cy="1171" rx="80" ry="11.6" transform="rotate(-18 821 1171)" fill="#000" opacity="0.10"/><ellipse cx="1076" cy="161" rx="82" ry="11.9" transform="rotate(-8 1076 161)" fill="#000" opacity="0.19"/><ellipse cx="1077" cy="267" rx="25" ry="7.8" transform="rotate(-5 1077 267)" fill="#fff" opacity="0.28"/><ellipse cx="90" cy="586" rx="58" ry="9.2" transform="rotate(-17 90 586)" fill="#fff" opacity="0.17"/><ellipse cx="1024" cy="336" rx="66" ry="4.4" transform="rotate(-14 1024 336)" fill="#fff" opacity="0.10"/><ellipse cx="519" cy="1130" rx="63" ry="5.3" transform="rotate(-8 519 1130)" fill="#fff" opacity="0.17"/><ellipse cx="937" cy="511" rx="65" ry="4.4" transform="rotate(-18 937 511)" fill="#fff" opacity="0.11"/><ellipse cx="635" cy="290" rx="52" ry="4.1" transform="rotate(-4 635 290)" fill="#000" opacity="0.26"/></g>
<g filter="url(#blur3)">
<g transform="translate(40,44) scale(0.49285)">
<polygon points="740,20 830,0 1040,0 1080,70 1050,110 960,150 850,160 780,120 740,60" fill="#4a4a4a"/>
<polygon points="800,150 950,150 930,200 850,210 810,190" fill="#888888"/>
<polygon points="0,400 60,380 130,395 165,460 150,520 100,555 30,560 0,540" fill="#3a3a3a"/>
<polygon points="0,300 150,300 130,340 40,345 0,330" fill="#727272"/>
<polygon points="580,420 640,380 720,365 780,395 790,430 750,470 720,500 640,495 580,460 560,450" fill="#5c5c5c"/>
<polygon points="720,590 790,560 930,540 960,520 1080,510 1150,540 1165,650 1120,710 960,720 850,700 760,690 720,650" fill="#3a3a3a"/>
<polygon points="375,445 420,450 420,480 380,485" fill="#4a4a4a"/>
<polygon points="300,690 380,650 440,600 490,590 510,620 470,660 400,680 320,705" fill="#5c5c5c"/>
<polygon points="160,660 200,600 240,590 230,640 180,670" fill="#727272"/>
<polygon points="0,800 30,810 45,850 20,870 0,870" fill="#4a4a4a"/>
<polygon points="590,1040 650,970 720,945 790,960 800,1010 760,1050 680,1060 620,1065" fill="#5c5c5c"/>
<polygon points="1060,830 1120,810 1200,830 1220,880 1160,900 1080,890" fill="#727272"/>
<polygon points="330,1181 360,1130 420,1105 520,1100 600,1120 615,1181" fill="#3a3a3a"/>
<polygon points="130,1150 160,1130 190,1145 180,1170 140,1170" fill="#4a4a4a"/>
<polygon points="1140,1110 1180,1090 1230,1100 1220,1140 1160,1140" fill="#727272"/>
<polygon points="640,720 700,710 760,730 740,760 680,760" fill="#888888"/>
<polygon points="410,40 440,10 480,0 470,30 430,50" fill="#727272"/>
</g>
<g transform="translate(654,44) scale(0.49285)">
<polygon points="210,160 300,130 380,140 440,130 470,170 450,190 380,200 350,230 360,280 340,320 280,350 220,340 180,290 170,220" fill="#727272"/>
<polygon points="330,140 440,130 470,170 450,195 380,205 340,200" fill="#5c5c5c"/>
<polygon points="560,120 620,95 670,110 680,150 640,170 580,160" fill="#727272"/>
<polygon points="640,0 720,0 710,50 660,60" fill="#727272"/>
<polygon points="930,440 970,395 1040,410 1075,450 1060,480 1000,480 940,465" fill="#5c5c5c"/>
<polygon points="610,440 650,410 700,405 690,425 640,440" fill="#4a4a4a"/>
<polygon points="360,460 400,430 430,445 420,480 380,480" fill="#727272"/>
<polygon points="120,610 180,585 260,590 330,605 380,625 330,645 230,640 150,635" fill="#5c5c5c"/>
<polygon points="80,720 130,685 200,680 240,700 250,750 220,775 150,775 95,755" fill="#4a4a4a"/>
<polygon points="240,700 320,670 420,640 470,650 450,700 380,720 290,730" fill="#727272"/>
<polygon points="520,610 560,582 620,590 630,630 580,650 530,640" fill="#727272"/>
<polygon points="530,690 580,665 650,665 660,700 600,712 540,708" fill="#5c5c5c"/>
<polygon points="670,590 700,545 760,530 830,560 880,620 890,680 860,730 800,750 740,720 700,660" fill="#5c5c5c"/>
<polygon points="1000,720 1040,640 1100,600 1190,590 1200,620 1180,700 1120,740 1040,735" fill="#5c5c5c"/>
<polygon points="1010,880 1060,840 1100,835 1150,870 1160,920 1110,940 1040,920" fill="#4a4a4a"/>
<polygon points="680,880 700,835 760,850 760,890 720,900" fill="#727272"/>
<polygon points="700,930 760,895 850,890 900,920 880,960 790,970 720,965" fill="#727272"/>
<polygon points="1190,940 1240,905 1258,905 1258,1010 1210,1000" fill="#4a4a4a"/>
<polygon points="1170,1020 1200,990 1240,1000 1230,1050 1180,1045" fill="#727272"/>
<polygon points="70,1020 120,970 250,920 350,905 480,910 530,940 550,1020 520,1060 430,1085 290,1080 180,1090 90,1080 70,1050" fill="#3a3a3a"/>
<polygon points="680,1100 760,1060 860,1050 830,1110 760,1130 700,1125" fill="#727272"/>
<polygon points="870,1070 930,1045 990,1050 980,1100 900,1100" fill="#727272"/>
<polygon points="150,1181 200,1140 320,1140 350,1181" fill="#5c5c5c"/>
<polygon points="960,1181 1000,1140 1100,1130 1150,1181" fill="#727272"/>
</g>
<g transform="translate(40,626) scale(0.49285)">
<polygon points="90,50 150,20 220,30 240,70 230,110 140,130 100,110" fill="#3a3a3a"/>
<polygon points="240,60 300,20 360,0 610,0 600,50 540,90 460,115 380,120 300,110 250,100" fill="#3a3a3a"/>
<polygon points="45,310 90,270 160,255 230,260 250,300 230,330 180,360 100,355 60,340" fill="#3a3a3a"/>
<polygon points="0,460 50,480 115,520 100,570 50,605 0,610" fill="#3a3a3a"/>
<polygon points="150,560 180,535 225,540 240,580 200,600 160,590" fill="#4a4a4a"/>
<polygon points="210,680 260,645 340,640 410,660 420,700 380,730 300,740 230,725" fill="#4a4a4a"/>
<polygon points="540,350 580,325 640,330 660,370 620,400 560,390" fill="#727272"/>
<polygon points="600,515 630,500 660,515 640,530" fill="#4a4a4a"/>
<polygon points="665,765 720,730 800,715 880,720 885,760 860,800 820,835 760,820 700,800" fill="#3a3a3a"/>
<polygon points="560,870 600,840 680,850 700,900 640,920 580,910" fill="#4a4a4a"/>
<polygon points="800,100 850,60 900,40 980,20 1040,40 1000,80 900,100 880,140 830,130" fill="#5c5c5c"/>
<polygon points="1030,360 1060,280 1080,240 1150,220 1258,220 1258,510 1180,500 1100,490 1060,440 1040,400" fill="#3a3a3a"/>
<polygon points="940,440 980,410 1040,420 1070,470 1040,500 960,490" fill="#727272"/>
<polygon points="870,240 920,205 1010,210 1040,260 1000,300 900,290" fill="#727272"/>
<polygon points="1200,600 1230,560 1258,555 1258,650 1220,640" fill="#4a4a4a"/>
<polygon points="1000,630 1020,605 1050,615 1045,655 1010,655" fill="#727272"/>
<polygon points="1110,660 1140,640 1180,655 1170,690 1120,690" fill="#4a4a4a"/>
<polygon points="1070,760 1110,735 1200,735 1210,770 1150,790 1090,790" fill="#727272"/>
<polygon points="940,950 970,910 1020,900 1020,945 980,960" fill="#4a4a4a"/>
<polygon points="960,1183 990,1110 1030,1085 1100,1100 1200,1110 1258,1090 1258,1183" fill="#3a3a3a"/>
<polygon points="580,1183 600,1120 680,1105 760,1110 740,1183" fill="#3a3a3a"/>
<polygon points="0,380 40,390 40,460 0,455" fill="#5c5c5c"/>
</g>
<g transform="translate(654,626) scale(0.49285)">
<polygon points="970,90 1020,40 1080,10 1200,0 1230,30 1210,80 1150,100 1050,110 990,105" fill="#5c5c5c"/>
<polygon points="300,200 400,175 500,155 520,220 510,300 500,380 400,405 340,370 320,300 290,250" fill="#4a4a4a"/>
<polygon points="0,280 60,300 120,260 170,280 180,330 100,350 60,380 50,470 0,480" fill="#3a3a3a"/>
<polygon points="0,500 60,490 160,500 180,580 130,610 50,640 0,630" fill="#4a4a4a"/>
<polygon points="880,425 950,418 1100,430 1145,455 1110,495 1020,520 950,500 900,460" fill="#3a3a3a"/>
<polygon points="720,390 800,330 900,300 920,330 880,430 760,420" fill="#d6d6d6"/>
<polygon points="760,680 810,620 880,665 860,710 810,725" fill="#5c5c5c"/>
<polygon points="620,610 680,580 730,590 710,625 640,630" fill="#727272"/>
<polygon points="360,660 400,635 460,650 470,685 400,690" fill="#727272"/>
<polygon points="930,700 970,672 1010,680 1000,715 950,720" fill="#5c5c5c"/>
<polygon points="40,720 100,690 170,680 210,720 170,760 100,770 60,750" fill="#5c5c5c"/>
<polygon points="190,870 230,790 300,760 380,780 450,760 520,730 700,740 745,780 720,840 620,910 500,920 420,900 380,940 300,970 240,960 200,920" fill="#4a4a4a"/>
<polygon points="780,900 820,860 900,850 950,890 900,940 820,950" fill="#5c5c5c"/>
<polygon points="650,1110 690,1030 750,975 860,960 940,990 985,1060 960,1110 870,1120 760,1120" fill="#4a4a4a"/>
<polygon points="0,1090 60,1050 180,1015 260,1030 300,1070 240,1100 100,1130 30,1140 0,1140" fill="#4a4a4a"/>
<polygon points="480,1030 540,990 610,990 640,1040 580,1070 500,1065" fill="#5c5c5c"/>
<polygon points="1130,1150 1180,1110 1258,1090 1258,1183 1140,1183" fill="#4a4a4a"/>
<polygon points="850,1183 880,1160 960,1160 970,1183" fill="#4a4a4a"/>
<polygon points="100,140 140,105 190,120 180,165 120,165" fill="#727272"/>
<polygon points="560,80 600,50 640,60 620,100 580,100" fill="#727272"/>
<polygon points="0,1140 100,1150 90,1183 0,1183" fill="#4a4a4a"/>
<polygon points="200,30 260,0 320,10 300,55 230,55" fill="#727272"/>
</g>
</g>
<rect x="40" y="44" width="1234" height="1165" filter="url(#noise)" opacity="0.35"/>
<rect x="40" y="44" width="1234" height="1165" filter="url(#noisew)" opacity="0.35"/>
</g>
<rect x="52.2" y="56.2" width="150.6" height="133.6" fill="#fff" stroke="#000" stroke-width="2.6"/>
<text transform="translate(69.8,151.9) scale(0.96,1)" font-size="103" text-anchor="start" fill="#000" font-family="Liberation Sans, Arial, sans-serif" font-weight="bold">(a)</text>
<text x="795.2" y="565.4" font-size="89" text-anchor="start" fill="#f2f200" font-family="Liberation Sans, Arial, sans-serif" font-weight="bold">Ti</text>
<text x="225.9" y="666.1" font-size="89" text-anchor="start" fill="#f2f200" font-family="Liberation Sans, Arial, sans-serif" font-weight="bold">Ti</text>
<text x="574.1" y="830" font-size="89" text-anchor="start" fill="#f2f200" font-family="Liberation Sans, Arial, sans-serif" font-weight="bold">Ti</text>
<text transform="translate(76.1,1142.7) scale(0.97,1)" font-size="103" text-anchor="start" fill="#f2f200" font-family="Liberation Sans, Arial, sans-serif" font-weight="bold">200 nm</text>
<rect x="79" y="1162.3" width="174.3" height="27.2" fill="#f2f200"/>
<g clip-path="url(#edsclip)">
<rect x="1279" y="44" width="538" height="537" fill="#40400c"/>
<g transform="translate(1279,44) scale(0.42766)" filter="url(#blur12)">
<polygon points="-80,-80 1338,-80 1338,1336 -80,1336" fill="#40400c"/>
<polygon points="100,60 300,40 450,120 420,220 300,260 150,280 60,250 40,150" fill="#1c1c04"/>
<polygon points="-80,600 200,620 400,640 600,700 800,760 950,800 900,870 700,900 500,900 300,880 100,860 -80,850" fill="#26260a"/>
<polygon points="-80,1020 200,1060 400,1080 600,1150 650,1336 -80,1336" fill="#2a2a08"/>
<polygon points="700,360 900,340 1100,360 1338,380 1338,700 1000,680 800,640 700,560" fill="#55551a"/>
<polygon points="-80,320 100,310 200,300 280,270 380,220 480,195 580,200 660,215 700,250 700,330 680,420 660,480 600,520 520,540 420,530 330,540 250,590 170,610 80,590 20,560 -80,540" fill="#b4b414"/>
<polygon points="-80,330 100,320 200,310 280,300 300,400 290,500 250,580 170,600 80,580 20,550 -80,530" fill="#caca12"/>
<polygon points="700,250 760,230 830,160 900,120 1000,100 1080,80 1150,85 1190,130 1220,200 1230,280 1200,340 1120,350 1050,340 980,320 920,300 860,310 780,320 720,330" fill="#d2d214"/>
<polygon points="-80,960 60,930 150,905 250,900 350,910 450,920 560,940 630,980 620,1060 560,1080 450,1070 350,1060 250,1050 150,1030 60,1010 -80,1000" fill="#9a9a12"/>
<polygon points="620,980 700,950 800,910 900,870 980,840 1060,825 1150,825 1220,845 1338,870 1338,1336 740,1336 680,1200 640,1120 620,1060" fill="#d4d414"/>
</g>
<rect x="1279" y="44" width="538" height="537" filter="url(#noise)" opacity="0.45"/>
<rect x="1279" y="44" width="538" height="537" filter="url(#noisey)" opacity="0.45"/>
</g>
<text transform="translate(1715,550.8) scale(0.97,1)" font-size="101" text-anchor="start" fill="#000" font-family="Liberation Sans, Arial, sans-serif" font-weight="bold">Ti</text>
<text transform="translate(1297.5,677.8) scale(0.97,1)" font-size="103" text-anchor="start" fill="#000" font-family="Liberation Sans, Arial, sans-serif" font-weight="bold">100 nm</text>
<rect x="1311.5" y="695.5" width="205.5" height="32.5" fill="#000"/>
<path d="M356.5,2143.2H1751.5" stroke="#d8d8d8" stroke-width="2.6"/>
<path d="M355.3,1444.5V2141.5" stroke="#cdcdcd" stroke-width="3"/>
<path d="M1746.8,1444.5V2141.5" stroke="#d0d0d0" stroke-width="2.5"/>
<path d="M356.5,1446.5H1751.5" stroke="#808080" stroke-width="5"/>
<path d="M356.5,2140.4H1751.5" stroke="#1a1a1a" stroke-width="3"/>
<path d="M358.4,1444.5V2141.5" stroke="#262626" stroke-width="3"/>
<path d="M1749.5,1444.5V2141.5" stroke="#2a2a2a" stroke-width="3"/>
<path d="M442.5,2140v-11 M442.5,1446v11 M526.3,2140v-11 M526.3,1446v11 M553.2,2140v-11 M553.2,1446v11 M575.3,2140v-11 M575.3,1446v11 M593.9,2140v-11 M593.9,1446v11 M610,2140v-11 M610,1446v11 M624.3,2140v-11 M624.3,1446v11 M637,2140v-23 M637,1446v23 M720.8,2140v-11 M720.8,1446v11 M769.8,2140v-11 M769.8,1446v11 M804.5,2140v-11 M804.5,1446v11 M831.5,2140v-11 M831.5,1446v11 M853.5,2140v-11 M853.5,1446v11 M872.1,2140v-11 M872.1,1446v11 M888.3,2140v-11 M888.3,1446v11 M902.5,2140v-11 M902.5,1446v11 M915.2,2140v-23 M915.2,1446v23 M999,2140v-11 M999,1446v11 M1048,2140v-11 M1048,1446v11 M1082.8,2140v-11 M1082.8,1446v11 M1109.7,2140v-11 M1109.7,1446v11 M1131.8,2140v-11 M1131.8,1446v11 M1150.4,2140v-11 M1150.4,1446v11 M1166.5,2140v-11 M1166.5,1446v11 M1180.8,2140v-11 M1180.8,1446v11 M1193.5,2140v-23 M1193.5,1446v23 M1277.3,2140v-11 M1277.3,1446v11 M1326.3,2140v-11 M1326.3,1446v11 M1361,2140v-11 M1361,1446v11 M1388,2140v-11 M1388,1446v11 M1410,2140v-11 M1410,1446v11 M1428.6,2140v-11 M1428.6,1446v11 M1444.8,2140v-11 M1444.8,1446v11 M1459,2140v-11 M1459,1446v11 M1471.8,2140v-23 M1471.8,1446v23 M1555.5,2140v-11 M1555.5,1446v11 M1604.5,2140v-11 M1604.5,1446v11 M1639.3,2140v-11 M1639.3,1446v11 M1666.2,2140v-11 M1666.2,1446v11 M1688.3,2140v-11 M1688.3,1446v11 M1706.9,2140v-11 M1706.9,1446v11 M1723,2140v-11 M1723,1446v11 M1737.3,2140v-11 M1737.3,1446v11 M358,2070.6h11 M1750,2070.6h-11 M358,2001.2h23 M1750,2001.2h-23 M358,1931.8h11 M1750,1931.8h-11 M358,1862.4h23 M1750,1862.4h-23 M358,1793h11 M1750,1793h-11 M358,1723.6h23 M1750,1723.6h-23 M358,1654.2h11 M1750,1654.2h-11 M358,1584.8h23 M1750,1584.8h-23 M358,1515.4h11 M1750,1515.4h-11" stroke="#111" stroke-width="2.6" fill="none"/>
<text transform="translate(229.4,2167) scale(0.95,1)" font-size="76" text-anchor="start" fill="#000" font-family="Liberation Sans, Arial, sans-serif" font-weight="bold">8.0</text>
<text transform="translate(229.3,2028.2) scale(0.95,1)" font-size="76" text-anchor="start" fill="#000" font-family="Liberation Sans, Arial, sans-serif" font-weight="bold">8.2</text>
<text transform="translate(228.1,1889.4) scale(0.95,1)" font-size="76" text-anchor="start" fill="#000" font-family="Liberation Sans, Arial, sans-serif" font-weight="bold">8.4</text>
<text transform="translate(229.2,1750.6) scale(0.95,1)" font-size="76" text-anchor="start" fill="#000" font-family="Liberation Sans, Arial, sans-serif" font-weight="bold">8.6</text>
<text transform="translate(229,1611.8) scale(0.95,1)" font-size="76" text-anchor="start" fill="#000" font-family="Liberation Sans, Arial, sans-serif" font-weight="bold">8.8</text>
<text transform="translate(229.2,1473) scale(0.95,1)" font-size="76" text-anchor="start" fill="#000" font-family="Liberation Sans, Arial, sans-serif" font-weight="bold">9.0</text>
<text transform="translate(333.6,2241.8) scale(0.95,1)" font-size="76" text-anchor="start" fill="#000" font-family="Liberation Sans, Arial, sans-serif" font-weight="bold">0</text>
<text transform="translate(585.2,2241.8) scale(0.95,1)" font-size="76" text-anchor="start" fill="#000" font-family="Liberation Sans, Arial, sans-serif" font-weight="bold">0.1</text>
<text transform="translate(893.5,2241.8) scale(0.95,1)" font-size="76" text-anchor="start" fill="#000" font-family="Liberation Sans, Arial, sans-serif" font-weight="bold">1</text>
<text transform="translate(1152.1,2241.8) scale(0.95,1)" font-size="76" text-anchor="start" fill="#000" font-family="Liberation Sans, Arial, sans-serif" font-weight="bold">10</text>
<text transform="translate(1409.8,2241.8) scale(0.95,1)" font-size="76" text-anchor="start" fill="#000" font-family="Liberation Sans, Arial, sans-serif" font-weight="bold">100</text>
<text transform="translate(1667.5,2241.8) scale(0.95,1)" font-size="76" text-anchor="start" fill="#000" font-family="Liberation Sans, Arial, sans-serif" font-weight="bold">1000</text>
<polyline points="358,2022 915.2,1935.3 1299.3,1897.1 1577.5,1550.1" fill="none" stroke="#000" stroke-width="6.5" stroke-linejoin="round"/>
<polygon points="458.3,2025.6 491.7,1977.2 522.7,1977.2 489.3,2025.6" fill="#fff"/>
<path d="M458.3,2025.6L491.7,1977.2M489.3,2025.6L522.7,1977.2" stroke="#000" stroke-width="4" fill="none"/>
<circle cx="358" cy="2022" r="21.3" fill="#fff" stroke="#000" stroke-width="4"/>
<circle cx="915.2" cy="1935.3" r="21.3" fill="#fff" stroke="#000" stroke-width="4"/>
<circle cx="1299.3" cy="1897.1" r="21.3" fill="#fff" stroke="#000" stroke-width="4"/>
<circle cx="1577.5" cy="1550.1" r="21.3" fill="#fff" stroke="#000" stroke-width="4"/>
<polygon points="458.3,2164.2 491.7,2115.8 522.7,2115.8 489.3,2164.2" fill="#fff"/>
<path d="M458.3,2164.2L491.7,2115.8M489.3,2164.2L522.7,2115.8" stroke="#111" stroke-width="4" fill="none"/>
<polygon points="458.3,1470.2 491.7,1421.8 522.7,1421.8 489.3,1470.2" fill="#fff"/>
<path d="M458.3,1470.2L491.7,1421.8M489.3,1470.2L522.7,1421.8" stroke="#111" stroke-width="4" fill="none"/>
<text x="50.6" y="1497" font-size="100" text-anchor="start" fill="#000" font-family="Liberation Sans, Arial, sans-serif" font-weight="bold">(b)</text>
<text transform="translate(404,1554) scale(0.99,1)" font-size="82" text-anchor="start" fill="#000" font-family="Liberation Sans, Arial, sans-serif" font-weight="bold">Nb - 47% Ti</text>
<rect x="468.4" y="1631.7" width="709" height="173.3" fill="#fff" stroke="#0c0c5a" stroke-width="2.2"/><path d="M469.5,1806.4H1178.8V1632" stroke="#080870" stroke-width="3.2" fill="none"/>
<text transform="translate(494,1702.3) scale(0.996,1)" font-size="71" text-anchor="start" fill="#000" font-family="Liberation Sans, Arial, sans-serif" font-weight="bold">HPT (4 GPa, <tspan font-style="italic">N</tspan> = 50)</text>
<text transform="translate(494,1782.3) scale(0.996,1)" font-size="71" text-anchor="start" fill="#000" font-family="Liberation Sans, Arial, sans-serif" font-weight="bold">Anneal (<tspan font-style="italic">T</tspan> = 573 K)</text>
<text x="663.6" y="2354" font-size="87" text-anchor="start" fill="#000" font-family="Liberation Sans, Arial, sans-serif" font-weight="bold">Annealing Time (h)</text>
<text transform="translate(105.2,1939.7) rotate(-90) scale(0.79,1)" font-size="100" font-style="italic" fill="#000" font-family="Liberation Sans, Arial, sans-serif" font-weight="bold">T</text>
<text transform="translate(127.4,1885.3) rotate(-90)" font-size="64" font-style="italic" fill="#000" font-family="Liberation Sans, Arial, sans-serif" font-weight="bold">c</text>
<text transform="translate(105.2,1804.8) rotate(-90)" font-size="88" fill="#000" font-family="Liberation Sans, Arial, sans-serif" font-weight="bold">(K)</text>
<path d="M354,2596H1747.5" stroke="#b8b8b8" stroke-width="2"/>
<path d="M1744.4,2593.1V3521.5" stroke="#a8a8a8" stroke-width="2.9"/>
<path d="M354,2593.4H1747.5" stroke="#4a4a4a" stroke-width="3"/>
<path d="M354,3520.5H1747.5" stroke="#000" stroke-width="3"/>
<path d="M355.5,2593.1V3521.5" stroke="#0a0a0a" stroke-width="3.4"/>
<path d="M1747.2,2593.1V3521.5" stroke="#555" stroke-width="2.7"/>
<path d="M440.3,3520v-11 M440.3,2594.6v11 M523.9,3520v-11 M523.9,2594.6v11 M550.8,3520v-11 M550.8,2594.6v11 M572.8,3520v-11 M572.8,2594.6v11 M591.5,3520v-11 M591.5,2594.6v11 M607.6,3520v-11 M607.6,2594.6v11 M621.8,3520v-11 M621.8,2594.6v11 M634.5,3520v-23 M634.5,2594.6v23 M718.2,3520v-11 M718.2,2594.6v11 M767.1,3520v-11 M767.1,2594.6v11 M801.8,3520v-11 M801.8,2594.6v11 M828.7,3520v-11 M828.7,2594.6v11 M850.7,3520v-11 M850.7,2594.6v11 M869.4,3520v-11 M869.4,2594.6v11 M885.5,3520v-11 M885.5,2594.6v11 M899.7,3520v-11 M899.7,2594.6v11 M912.4,3520v-23 M912.4,2594.6v23 M996.1,3520v-11 M996.1,2594.6v11 M1045,3520v-11 M1045,2594.6v11 M1079.7,3520v-11 M1079.7,2594.6v11 M1106.6,3520v-11 M1106.6,2594.6v11 M1128.6,3520v-11 M1128.6,2594.6v11 M1147.3,3520v-11 M1147.3,2594.6v11 M1163.4,3520v-11 M1163.4,2594.6v11 M1177.6,3520v-11 M1177.6,2594.6v11 M1190.3,3520v-23 M1190.3,2594.6v23 M1274,3520v-11 M1274,2594.6v11 M1322.9,3520v-11 M1322.9,2594.6v11 M1357.6,3520v-11 M1357.6,2594.6v11 M1384.5,3520v-11 M1384.5,2594.6v11 M1406.5,3520v-11 M1406.5,2594.6v11 M1425.2,3520v-11 M1425.2,2594.6v11 M1441.3,3520v-11 M1441.3,2594.6v11 M1455.5,3520v-11 M1455.5,2594.6v11 M1468.2,3520v-23 M1468.2,2594.6v23 M1551.9,3520v-11 M1551.9,2594.6v11 M1600.8,3520v-11 M1600.8,2594.6v11 M1635.5,3520v-11 M1635.5,2594.6v11 M1662.4,3520v-11 M1662.4,2594.6v11 M1684.4,3520v-11 M1684.4,2594.6v11 M1703.1,3520v-11 M1703.1,2594.6v11 M1719.2,3520v-11 M1719.2,2594.6v11 M1733.4,3520v-11 M1733.4,2594.6v11 M355.5,3404.3h11 M1746,3404.3h-11 M355.5,3288.7h23 M1746,3288.7h-23 M355.5,3173h11 M1746,3173h-11 M355.5,3057.3h23 M1746,3057.3h-23 M355.5,2941.6h11 M1746,2941.6h-11 M355.5,2825.9h23 M1746,2825.9h-23 M355.5,2710.3h11 M1746,2710.3h-11" stroke="#111" stroke-width="2.6" fill="none"/>
<text transform="translate(286.8,3547) scale(0.95,1)" font-size="76" text-anchor="start" fill="#000" font-family="Liberation Sans, Arial, sans-serif" font-weight="bold">1</text>
<text transform="translate(289.7,3315.7) scale(0.95,1)" font-size="76" text-anchor="start" fill="#000" font-family="Liberation Sans, Arial, sans-serif" font-weight="bold">2</text>
<text transform="translate(290,3084.3) scale(0.95,1)" font-size="76" text-anchor="start" fill="#000" font-family="Liberation Sans, Arial, sans-serif" font-weight="bold">3</text>
<text transform="translate(289.2,2852.9) scale(0.95,1)" font-size="76" text-anchor="start" fill="#000" font-family="Liberation Sans, Arial, sans-serif" font-weight="bold">4</text>
<text transform="translate(289.4,2621.6) scale(0.95,1)" font-size="76" text-anchor="start" fill="#000" font-family="Liberation Sans, Arial, sans-serif" font-weight="bold">5</text>
<text transform="translate(333.7,3620.8) scale(0.95,1)" font-size="76" text-anchor="start" fill="#000" font-family="Liberation Sans, Arial, sans-serif" font-weight="bold">0</text>
<text transform="translate(583.7,3620.8) scale(0.95,1)" font-size="76" text-anchor="start" fill="#000" font-family="Liberation Sans, Arial, sans-serif" font-weight="bold">0.1</text>
<text transform="translate(890.7,3620.8) scale(0.95,1)" font-size="76" text-anchor="start" fill="#000" font-family="Liberation Sans, Arial, sans-serif" font-weight="bold">1</text>
<text transform="translate(1150.1,3620.8) scale(0.95,1)" font-size="76" text-anchor="start" fill="#000" font-family="Liberation Sans, Arial, sans-serif" font-weight="bold">10</text>
<text transform="translate(1407,3620.8) scale(0.95,1)" font-size="76" text-anchor="start" fill="#000" font-family="Liberation Sans, Arial, sans-serif" font-weight="bold">100</text>
<text transform="translate(1664.3,3620.8) scale(0.95,1)" font-size="76" text-anchor="start" fill="#000" font-family="Liberation Sans, Arial, sans-serif" font-weight="bold">1000</text>
<polyline points="355.5,3057.3 912.4,2821.3 1296,2844.5 1573.9,2994.8" fill="none" stroke="#000" stroke-width="6.3" stroke-linejoin="round"/>
<polygon points="456.1,3032.6 490.9,2969 521.4,2969 486.6,3032.6" fill="#fff"/>
<path d="M456.1,3032.6L490.9,2969M486.6,3032.6L521.4,2969" stroke="#000" stroke-width="3.6" fill="none"/>
<circle cx="355.5" cy="3057.3" r="21" fill="#fff" stroke="#000" stroke-width="4"/>
<circle cx="912.4" cy="2821.3" r="21" fill="#fff" stroke="#000" stroke-width="4"/>
<circle cx="1296" cy="2844.5" r="21" fill="#fff" stroke="#000" stroke-width="4"/>
<circle cx="1573.9" cy="2994.8" r="21" fill="#fff" stroke="#000" stroke-width="4"/>
<polyline points="355.5,3315.3 912.4,3126.7 1296,3265.5 1573.9,3277.1" fill="none" stroke="#0a0a96" stroke-width="6.3" stroke-linejoin="round"/>
<polygon points="456.1,3301.9 490.9,3238.3 521.4,3238.3 486.6,3301.9" fill="#fff"/>
<path d="M456.1,3301.9L490.9,3238.3M486.6,3301.9L521.4,3238.3" stroke="#000" stroke-width="3.6" fill="none"/>
<polygon points="355.5,3287.3 380,3329.3 331,3329.3" fill="#fff" stroke="#0a0a80" stroke-width="3.6" stroke-linejoin="miter"/>
<polygon points="912.4,3098.7 936.9,3140.7 887.9,3140.7" fill="#fff" stroke="#0a0a80" stroke-width="3.6" stroke-linejoin="miter"/>
<polygon points="1296,3237.5 1320.5,3279.5 1271.5,3279.5" fill="#fff" stroke="#0a0a80" stroke-width="3.6" stroke-linejoin="miter"/>
<polygon points="1573.9,3249.1 1598.4,3291.1 1549.4,3291.1" fill="#fff" stroke="#0a0a80" stroke-width="3.6" stroke-linejoin="miter"/>
<polyline points="355.5,3431.9 912.4,3359.7 1296,3392.5 1573.9,3412.4" fill="none" stroke="#e8141a" stroke-width="6.3" stroke-linejoin="round"/>
<polygon points="456.1,3446.4 490.9,3382.8 521.4,3382.8 486.6,3446.4" fill="#fff"/>
<path d="M456.1,3446.4L490.9,3382.8M486.6,3446.4L521.4,3382.8" stroke="#000" stroke-width="3.6" fill="none"/>
<rect x="335.3" y="3411.7" width="40.4" height="40.4" fill="#fff" stroke="#b41e22" stroke-width="3.8"/>
<rect x="892.2" y="3339.5" width="40.4" height="40.4" fill="#fff" stroke="#b41e22" stroke-width="3.8"/>
<rect x="1275.8" y="3372.3" width="40.4" height="40.4" fill="#fff" stroke="#b41e22" stroke-width="3.8"/>
<rect x="1553.7" y="3392.2" width="40.4" height="40.4" fill="#fff" stroke="#b41e22" stroke-width="3.8"/>
<polygon points="456.1,3551.8 490.9,3488.2 521.4,3488.2 486.6,3551.8" fill="#fff"/>
<path d="M456.1,3551.8L490.9,3488.2M486.6,3551.8L521.4,3488.2" stroke="#111" stroke-width="3.6" fill="none"/>
<polygon points="456.1,2626.4 490.9,2562.8 521.4,2562.8 486.6,2626.4" fill="#fff"/>
<path d="M456.1,2626.4L490.9,2562.8M486.6,2626.4L521.4,2562.8" stroke="#111" stroke-width="3.6" fill="none"/>
<text x="48.5" y="2518.5" font-size="101.5" text-anchor="start" fill="#000" font-family="Liberation Sans, Arial, sans-serif" font-weight="bold">(c)</text>
<text transform="translate(404,2728) scale(0.99,1)" font-size="82" text-anchor="start" fill="#000" font-family="Liberation Sans, Arial, sans-serif" font-weight="bold">Nb - 47% Ti</text>
<rect x="999.9" y="2621.6" width="710.6" height="174.5" fill="#fff" stroke="#0c0c5a" stroke-width="2.2"/><path d="M1001,2797.6H1712.4V2622" stroke="#080870" stroke-width="3.2" fill="none"/>
<text transform="translate(1025.5,2692.3) scale(0.99,1)" font-size="71" text-anchor="start" fill="#000" font-family="Liberation Sans, Arial, sans-serif" font-weight="bold">HPT (4 GPa, <tspan font-style="italic">N</tspan> = 50)</text>
<text transform="translate(1024,2772.3) scale(0.99,1)" font-size="71" text-anchor="start" fill="#000" font-family="Liberation Sans, Arial, sans-serif" font-weight="bold">Anneal (<tspan font-style="italic">T</tspan> = 573 K)</text>
<text x="751" y="2956.5" font-size="82" text-anchor="start" fill="#000" font-family="Liberation Sans, Arial, sans-serif" font-weight="bold">Hardness</text>
<text x="771.8" y="3248.3" font-size="82" text-anchor="start" fill="#0a0a96" font-family="Liberation Sans, Arial, sans-serif" font-weight="bold">Bending</text>
<text transform="translate(835.2,3466.5) scale(0.96,1)" font-size="82" text-anchor="start" fill="#ee1111" font-family="Liberation Sans, Arial, sans-serif" font-weight="bold">UTS</text>
<text x="660" y="3734" font-size="87" text-anchor="start" fill="#000" font-family="Liberation Sans, Arial, sans-serif" font-weight="bold">Annealing Time (h)</text>
<text transform="translate(102.5,3584) rotate(-90)" font-size="87" fill="#000" font-family="Liberation Sans, Arial, sans-serif" font-weight="bold">Hardness, UTS, Bending</text>
<text transform="translate(202,3385) rotate(-90)" font-size="87" fill="#000" font-family="Liberation Sans, Arial, sans-serif" font-weight="bold">Strength (GPa)</text>
</svg></body></html>
